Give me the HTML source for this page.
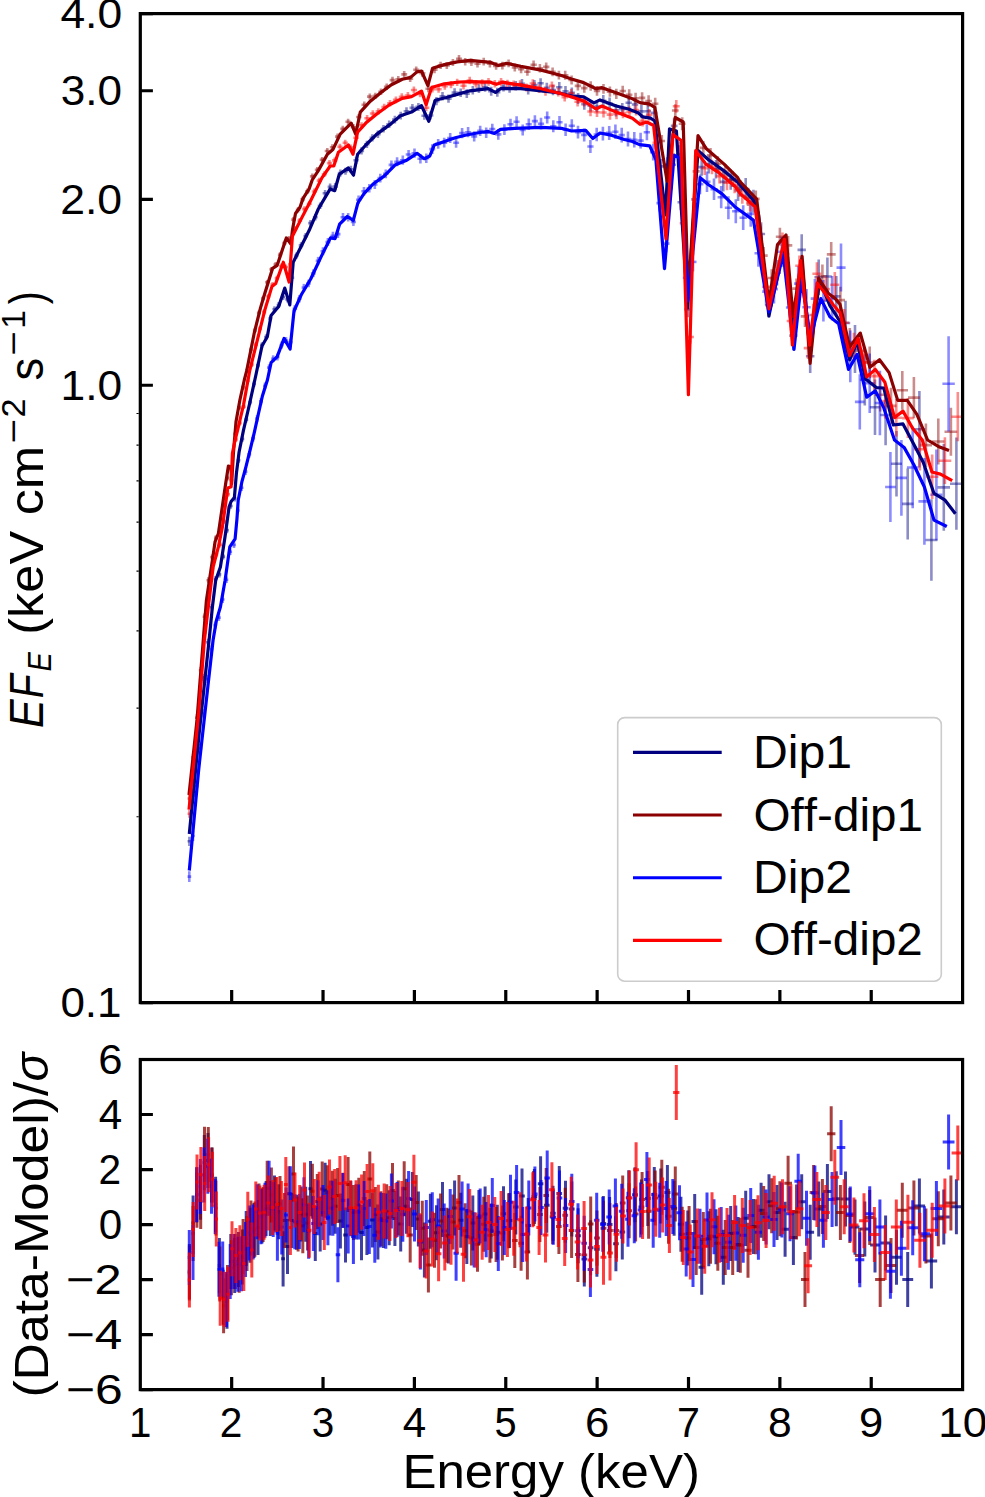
<!DOCTYPE html><html><head><meta charset="utf-8"><style>html,body{margin:0;padding:0;background:#fff;width:985px;height:1497px;overflow:hidden}</style></head><body><svg width="985" height="1497" viewBox="0 0 985 1497" style="position:absolute;left:0;top:0;font-family:'Liberation Sans',sans-serif;font-kerning:none">
<rect width="985" height="1497" fill="#fff"/>
<defs><clipPath id="ct"><rect x="140.3" y="13.6" width="822.3" height="989.0"/></clipPath><clipPath id="cb"><rect x="140.3" y="1059.5" width="822.3" height="330.0999999999999"/></clipPath></defs>
<g clip-path="url(#ct)" stroke-linecap="butt">
<g stroke="#000080" stroke-opacity="0.45" stroke-width="2.6" fill="none">
<path d="M189.4 836.7V845.9"/><path d="M187.5 841.3H191.2"/>
<path d="M193.1 791.1V799.7"/><path d="M191.2 795.4H194.9"/>
<path d="M196.8 749.2V757.3"/><path d="M194.9 753.2H198.6"/>
<path d="M200.5 712.4V720.0"/><path d="M198.6 716.2H202.4"/>
<path d="M204.3 673.7V680.9"/><path d="M202.4 677.3H206.1"/>
<path d="M208.0 638.8V645.6"/><path d="M206.1 642.2H209.9"/>
<path d="M211.8 604.1V610.5"/><path d="M209.9 607.3H213.7"/>
<path d="M215.6 576.0V582.2"/><path d="M213.7 579.1H217.5"/>
<path d="M219.4 571.4V577.4"/><path d="M217.5 574.4H221.3"/>
<path d="M223.2 553.7V559.5"/><path d="M221.3 556.6H225.1"/>
<path d="M227.0 527.5V533.2"/><path d="M225.1 530.3H228.9"/>
<path d="M230.8 503.2V508.8"/><path d="M228.9 506.0H232.7"/>
<path d="M234.7 495.8V501.4"/><path d="M232.7 498.6H236.6"/>
<path d="M238.5 457.5V463.0"/><path d="M236.6 460.3H240.4"/>
<path d="M242.4 436.2V441.8"/><path d="M240.4 439.0H244.3"/>
<path d="M246.2 416.8V422.5"/><path d="M244.3 419.6H248.2"/>
<path d="M250.1 399.5V405.1"/><path d="M248.2 402.3H252.1"/>
<path d="M254.0 381.2V386.9"/><path d="M252.1 384.0H256.0"/>
<path d="M258.0 362.4V368.1"/><path d="M256.0 365.3H260.0"/>
<path d="M262.0 342.2V347.9"/><path d="M260.0 345.0H264.1"/>
<path d="M266.1 334.3V340.1"/><path d="M264.1 337.2H268.2"/>
<path d="M270.3 315.7V321.4"/><path d="M268.2 318.5H272.3"/>
<path d="M274.5 306.3V312.1"/><path d="M272.3 309.2H276.6"/>
<path d="M278.7 302.0V307.9"/><path d="M276.6 305.0H280.9"/>
<path d="M283.1 294.0V300.0"/><path d="M280.9 297.0H285.2"/>
<path d="M287.5 296.4V302.4"/><path d="M285.2 299.4H289.7"/>
<path d="M291.9 274.7V280.8"/><path d="M289.7 277.7H294.2"/>
<path d="M296.5 252.4V258.6"/><path d="M294.2 255.5H298.7"/>
<path d="M301.1 242.2V248.5"/><path d="M298.7 245.4H303.4"/>
<path d="M305.7 232.9V239.2"/><path d="M303.4 236.1H308.1"/>
<path d="M310.5 219.9V226.3"/><path d="M308.1 223.1H312.9"/>
<path d="M315.3 213.9V220.4"/><path d="M312.9 217.2H317.7"/>
<path d="M320.2 202.4V209.1"/><path d="M317.7 205.8H322.6"/>
<path d="M325.1 189.9V196.7"/><path d="M322.6 193.3H327.6"/>
<path d="M330.1 183.5V190.4"/><path d="M327.6 186.9H332.7"/>
<path d="M335.2 183.1V190.0"/><path d="M332.7 186.6H337.8"/>
<path d="M340.4 169.6V176.6"/><path d="M337.8 173.1H342.9"/>
<path d="M345.5 167.7V174.8"/><path d="M342.9 171.2H348.2"/>
<path d="M350.8 165.7V172.8"/><path d="M348.2 169.3H353.4"/>
<path d="M356.1 156.7V163.9"/><path d="M353.4 160.3H358.8"/>
<path d="M361.5 147.3V154.6"/><path d="M358.8 150.9H364.1"/>
<path d="M366.9 140.7V148.0"/><path d="M364.1 144.3H369.6"/>
<path d="M372.4 134.2V141.6"/><path d="M369.6 137.9H375.1"/>
<path d="M377.9 130.6V138.1"/><path d="M375.1 134.3H380.7"/>
<path d="M383.5 124.9V132.5"/><path d="M380.7 128.7H386.3"/>
<path d="M389.2 120.4V128.0"/><path d="M386.3 124.2H392.0"/>
<path d="M394.9 115.8V123.5"/><path d="M392.0 119.6H397.8"/>
<path d="M400.7 111.8V119.6"/><path d="M397.8 115.7H403.6"/>
<path d="M406.5 107.2V115.1"/><path d="M403.6 111.2H409.5"/>
<path d="M412.4 103.9V111.9"/><path d="M409.5 107.9H415.4"/>
<path d="M418.4 102.9V110.9"/><path d="M415.4 106.9H421.4"/>
<path d="M424.4 111.6V119.7"/><path d="M421.4 115.7H427.4"/>
<path d="M430.4 111.4V119.6"/><path d="M427.4 115.5H433.4"/>
<path d="M436.5 97.1V105.3"/><path d="M433.4 101.2H439.5"/>
<path d="M442.5 92.0V100.4"/><path d="M439.5 96.2H445.5"/>
<path d="M448.5 94.4V102.8"/><path d="M445.5 98.6H451.6"/>
<path d="M454.6 88.3V96.8"/><path d="M451.6 92.6H457.6"/>
<path d="M460.7 88.4V97.0"/><path d="M457.6 92.7H463.7"/>
<path d="M466.8 89.3V97.9"/><path d="M463.7 93.6H469.8"/>
<path d="M472.8 85.9V94.6"/><path d="M469.8 90.2H475.9"/>
<path d="M478.9 84.2V93.1"/><path d="M475.9 88.7H482.0"/>
<path d="M485.1 82.9V91.8"/><path d="M482.0 87.4H488.1"/>
<path d="M491.2 86.7V95.8"/><path d="M488.1 91.2H494.3"/>
<path d="M497.3 87.7V96.8"/><path d="M494.3 92.3H500.4"/>
<path d="M503.5 82.3V91.5"/><path d="M500.4 86.9H506.5"/>
<path d="M509.6 83.3V92.7"/><path d="M506.5 88.0H512.7"/>
<path d="M515.8 81.0V90.4"/><path d="M512.7 85.7H518.9"/>
<path d="M522.0 79.0V88.7"/><path d="M518.9 83.9H525.1"/>
<path d="M528.2 84.7V94.5"/><path d="M525.1 89.6H531.3"/>
<path d="M534.4 80.1V90.0"/><path d="M531.3 85.0H537.5"/>
<path d="M540.6 78.2V88.3"/><path d="M537.5 83.3H543.7"/>
<path d="M546.8 82.8V93.0"/><path d="M543.7 87.9H549.9"/>
<path d="M553.0 84.8V95.2"/><path d="M549.9 90.0H556.1"/>
<path d="M559.3 82.0V92.5"/><path d="M556.1 87.3H562.4"/>
<path d="M565.5 86.1V96.7"/><path d="M562.4 91.4H568.6"/>
<path d="M571.8 87.4V98.2"/><path d="M568.6 92.8H574.9"/>
<path d="M578.1 93.1V104.1"/><path d="M574.9 98.6H581.2"/>
<path d="M584.3 98.7V109.8"/><path d="M581.2 104.3H587.5"/>
<path d="M590.6 100.1V111.4"/><path d="M587.5 105.7H593.8"/>
<path d="M596.9 100.8V112.2"/><path d="M593.8 106.5H600.1"/>
<path d="M603.3 95.1V106.8"/><path d="M600.1 100.9H606.4"/>
<path d="M609.6 97.5V109.5"/><path d="M606.4 103.5H612.8"/>
<path d="M615.9 104.0V116.4"/><path d="M612.8 110.2H619.1"/>
<path d="M622.3 102.9V115.5"/><path d="M619.1 109.2H625.5"/>
<path d="M628.7 96.3V109.3"/><path d="M625.5 102.8H631.8"/>
<path d="M635.0 97.9V111.1"/><path d="M631.8 104.5H638.2"/>
<path d="M641.4 104.7V118.2"/><path d="M638.2 111.4H644.6"/>
<path d="M647.8 104.2V118.1"/><path d="M644.6 111.2H651.0"/>
<path d="M654.3 105.8V120.0"/><path d="M651.0 112.9H657.5"/>
<path d="M660.8 159.1V173.6"/><path d="M657.5 166.4H664.1"/>
<path d="M667.4 157.2V172.0"/><path d="M664.1 164.6H670.8"/>
<path d="M674.1 118.3V133.5"/><path d="M670.8 125.9H677.5"/>
<path d="M680.9 194.5V210.0"/><path d="M677.5 202.3H684.3"/>
<path d="M687.8 301.4V317.2"/><path d="M684.3 309.3H691.2"/>
<path d="M694.7 191.1V207.6"/><path d="M691.2 199.4H698.2"/>
<path d="M701.7 158.6V175.7"/><path d="M698.2 167.1H705.3"/>
<path d="M708.8 155.6V173.5"/><path d="M705.3 164.6H712.4"/>
<path d="M716.0 159.9V178.6"/><path d="M712.4 169.3H719.7"/>
<path d="M723.3 172.2V191.6"/><path d="M719.7 181.9H727.0"/>
<path d="M730.7 169.6V189.8"/><path d="M727.0 179.7H734.4"/>
<path d="M738.1 179.9V200.9"/><path d="M734.4 190.4H741.9"/>
<path d="M745.7 178.1V199.9"/><path d="M741.9 189.0H749.5"/>
<path d="M753.4 189.7V212.4"/><path d="M749.5 201.1H757.2"/>
<path d="M761.1 222.2V245.8"/><path d="M757.2 234.0H765.1"/>
<path d="M769.0 292.9V317.5"/><path d="M765.1 305.2H773.0"/>
<path d="M777.0 260.0V285.6"/><path d="M773.0 272.8H781.0"/>
<path d="M785.1 244.8V271.9"/><path d="M781.0 258.4H789.2"/>
<path d="M793.4 321.0V350.2"/><path d="M789.2 335.6H797.5"/>
<path d="M801.7 234.3V265.5"/><path d="M797.5 249.9H805.9"/>
<path d="M810.2 339.5V372.9"/><path d="M805.9 356.2H814.4"/>
<path d="M818.7 259.4V295.0"/><path d="M814.4 277.2H823.1"/>
<path d="M827.4 257.5V295.6"/><path d="M823.1 276.5H831.8"/>
<path d="M836.3 275.9V317.0"/><path d="M831.8 296.4H840.8"/>
<path d="M845.5 300.8V345.1"/><path d="M840.8 323.0H850.2"/>
<path d="M855.0 325.1V372.9"/><path d="M850.2 349.0H859.8"/>
<path d="M864.8 354.2V405.5"/><path d="M859.8 379.8H869.8"/>
<path d="M875.0 379.5V435.0"/><path d="M869.8 407.2H880.2"/>
<path d="M885.6 384.8V445.2"/><path d="M880.2 415.0H890.9"/>
<path d="M896.5 430.9V496.4"/><path d="M890.9 463.7H902.0"/>
<path d="M907.7 468.4V539.4"/><path d="M902.0 503.9H913.5"/>
<path d="M919.4 390.9V467.5"/><path d="M913.5 429.2H925.4"/>
<path d="M931.4 499.2V580.8"/><path d="M925.4 540.0H937.5"/>
<path d="M943.8 444.0V530.8"/><path d="M937.5 487.4H950.0"/>
<path d="M956.4 437.6V529.8"/><path d="M950.0 483.7H962.7"/>
</g>
<g stroke="#8b0000" stroke-opacity="0.45" stroke-width="2.6" fill="none">
<path d="M189.4 794.5V802.4"/><path d="M187.5 798.5H191.3"/>
<path d="M193.1 753.7V761.2"/><path d="M191.3 757.4H195.0"/>
<path d="M196.9 714.3V721.3"/><path d="M195.0 717.8H198.8"/>
<path d="M200.7 667.0V673.6"/><path d="M198.8 670.3H202.6"/>
<path d="M204.5 613.6V619.9"/><path d="M202.6 616.8H206.4"/>
<path d="M208.3 577.3V583.2"/><path d="M206.4 580.3H210.2"/>
<path d="M212.1 554.5V560.0"/><path d="M210.2 557.3H214.0"/>
<path d="M215.9 535.3V540.6"/><path d="M214.0 537.9H217.9"/>
<path d="M219.8 526.1V531.3"/><path d="M217.9 528.7H221.7"/>
<path d="M223.6 502.5V507.6"/><path d="M221.7 505.1H225.6"/>
<path d="M227.5 475.5V480.4"/><path d="M225.6 478.0H229.4"/>
<path d="M231.4 477.9V482.7"/><path d="M229.4 480.3H233.3"/>
<path d="M235.3 431.4V436.2"/><path d="M233.3 433.8H237.2"/>
<path d="M239.2 405.2V410.0"/><path d="M237.2 407.6H241.1"/>
<path d="M243.1 385.0V389.8"/><path d="M241.1 387.4H245.1"/>
<path d="M247.0 368.4V373.3"/><path d="M245.1 370.8H249.0"/>
<path d="M251.0 347.3V352.2"/><path d="M249.0 349.8H252.9"/>
<path d="M254.9 328.1V333.0"/><path d="M252.9 330.5H256.9"/>
<path d="M259.0 310.4V315.3"/><path d="M256.9 312.8H261.0"/>
<path d="M263.1 295.9V300.8"/><path d="M261.0 298.4H265.1"/>
<path d="M267.2 279.9V284.8"/><path d="M265.1 282.3H269.3"/>
<path d="M271.4 266.9V271.9"/><path d="M269.3 269.4H273.5"/>
<path d="M275.7 262.0V267.0"/><path d="M273.5 264.5H277.9"/>
<path d="M280.0 252.3V257.3"/><path d="M277.9 254.8H282.2"/>
<path d="M284.5 240.5V245.6"/><path d="M282.2 243.1H286.7"/>
<path d="M288.9 235.9V241.1"/><path d="M286.7 238.5H291.2"/>
<path d="M293.5 217.0V222.3"/><path d="M291.2 219.6H295.8"/>
<path d="M298.1 207.1V212.5"/><path d="M295.8 209.8H300.4"/>
<path d="M302.8 196.6V202.1"/><path d="M300.4 199.4H305.1"/>
<path d="M307.5 188.4V194.0"/><path d="M305.1 191.2H309.9"/>
<path d="M312.4 173.6V179.2"/><path d="M309.9 176.4H314.8"/>
<path d="M317.3 167.0V172.7"/><path d="M314.8 169.8H319.7"/>
<path d="M322.2 156.9V162.7"/><path d="M319.7 159.8H324.7"/>
<path d="M327.3 148.1V153.9"/><path d="M324.7 151.0H329.8"/>
<path d="M332.4 144.2V150.1"/><path d="M329.8 147.2H335.0"/>
<path d="M337.6 133.6V139.5"/><path d="M335.0 136.6H340.2"/>
<path d="M342.8 125.8V131.9"/><path d="M340.2 128.9H345.4"/>
<path d="M348.1 118.8V124.8"/><path d="M345.4 121.8H350.7"/>
<path d="M353.4 124.1V130.3"/><path d="M350.7 127.2H356.1"/>
<path d="M358.8 113.9V120.1"/><path d="M356.1 117.0H361.5"/>
<path d="M364.3 101.6V107.9"/><path d="M361.5 104.8H367.0"/>
<path d="M369.8 93.4V99.7"/><path d="M367.0 96.6H372.6"/>
<path d="M375.4 92.7V99.1"/><path d="M372.6 95.9H378.2"/>
<path d="M381.0 88.5V95.0"/><path d="M378.2 91.7H383.9"/>
<path d="M386.7 83.4V89.9"/><path d="M383.9 86.7H389.6"/>
<path d="M392.5 76.8V83.4"/><path d="M389.6 80.1H395.4"/>
<path d="M398.3 75.9V82.5"/><path d="M395.4 79.2H401.3"/>
<path d="M404.2 71.1V77.8"/><path d="M401.3 74.4H407.2"/>
<path d="M410.2 75.4V82.1"/><path d="M407.2 78.8H413.2"/>
<path d="M416.2 66.4V73.2"/><path d="M413.2 69.8H419.3"/>
<path d="M422.3 69.9V76.8"/><path d="M419.3 73.3H425.4"/>
<path d="M428.4 85.3V92.2"/><path d="M425.4 88.8H431.5"/>
<path d="M434.5 66.2V73.2"/><path d="M431.5 69.7H437.6"/>
<path d="M440.6 61.8V68.9"/><path d="M437.6 65.3H443.7"/>
<path d="M446.8 61.9V69.1"/><path d="M443.7 65.5H449.8"/>
<path d="M452.9 58.9V66.1"/><path d="M449.8 62.5H456.0"/>
<path d="M459.0 55.1V62.4"/><path d="M456.0 58.8H462.1"/>
<path d="M465.2 58.1V65.4"/><path d="M462.1 61.7H468.3"/>
<path d="M471.4 58.5V65.9"/><path d="M468.3 62.2H474.4"/>
<path d="M477.5 60.0V67.5"/><path d="M474.4 63.7H480.6"/>
<path d="M483.7 57.8V65.4"/><path d="M480.6 61.6H486.8"/>
<path d="M489.9 59.9V67.6"/><path d="M486.8 63.8H493.0"/>
<path d="M496.1 62.1V69.8"/><path d="M493.0 65.9H499.3"/>
<path d="M502.4 61.7V69.5"/><path d="M499.3 65.6H505.5"/>
<path d="M508.6 59.4V67.2"/><path d="M505.5 63.3H511.7"/>
<path d="M514.8 63.5V71.5"/><path d="M511.7 67.5H518.0"/>
<path d="M521.1 65.2V73.3"/><path d="M518.0 69.2H524.2"/>
<path d="M527.4 67.6V75.8"/><path d="M524.2 71.7H530.5"/>
<path d="M533.6 60.6V69.0"/><path d="M530.5 64.8H536.8"/>
<path d="M539.9 64.1V72.6"/><path d="M536.8 68.4H543.1"/>
<path d="M546.2 62.6V71.2"/><path d="M543.1 66.9H549.4"/>
<path d="M552.6 67.6V76.3"/><path d="M549.4 71.9H555.7"/>
<path d="M558.9 70.7V79.6"/><path d="M555.7 75.2H562.0"/>
<path d="M565.2 70.8V79.8"/><path d="M562.0 75.3H568.4"/>
<path d="M571.6 75.5V84.6"/><path d="M568.4 80.0H574.7"/>
<path d="M577.9 81.3V90.5"/><path d="M574.7 85.9H581.1"/>
<path d="M584.3 83.4V92.8"/><path d="M581.1 88.1H587.5"/>
<path d="M590.7 81.3V90.7"/><path d="M587.5 86.0H593.8"/>
<path d="M597.0 86.1V95.7"/><path d="M593.8 90.9H600.2"/>
<path d="M603.5 84.0V93.8"/><path d="M600.2 88.9H606.7"/>
<path d="M609.9 86.6V96.7"/><path d="M606.7 91.6H613.1"/>
<path d="M616.3 88.8V99.1"/><path d="M613.1 93.9H619.5"/>
<path d="M622.7 85.7V96.3"/><path d="M619.5 91.0H625.9"/>
<path d="M629.2 89.3V100.2"/><path d="M625.9 94.7H632.4"/>
<path d="M635.6 92.8V103.9"/><path d="M632.4 98.3H638.9"/>
<path d="M642.1 92.2V103.6"/><path d="M638.9 97.9H645.3"/>
<path d="M648.6 95.2V106.8"/><path d="M645.3 101.0H651.9"/>
<path d="M655.2 97.8V109.6"/><path d="M651.9 103.7H658.4"/>
<path d="M661.8 134.9V147.0"/><path d="M658.4 141.0H665.1"/>
<path d="M668.5 162.0V174.5"/><path d="M665.1 168.3H671.9"/>
<path d="M675.3 104.2V116.9"/><path d="M671.9 110.5H678.7"/>
<path d="M682.2 117.2V130.2"/><path d="M678.7 123.7H685.6"/>
<path d="M689.1 278.0V291.2"/><path d="M685.6 284.6H692.6"/>
<path d="M696.2 164.6V178.2"/><path d="M692.6 171.4H699.7"/>
<path d="M703.3 140.9V154.9"/><path d="M699.7 147.9H706.9"/>
<path d="M710.5 148.1V162.5"/><path d="M706.9 155.3H714.2"/>
<path d="M717.8 156.3V171.0"/><path d="M714.2 163.7H721.5"/>
<path d="M725.2 164.0V179.1"/><path d="M721.5 171.5H729.0"/>
<path d="M732.7 171.5V187.0"/><path d="M729.0 179.2H736.5"/>
<path d="M740.3 180.1V196.0"/><path d="M736.5 188.0H744.1"/>
<path d="M748.0 189.5V205.9"/><path d="M744.1 197.7H751.9"/>
<path d="M755.8 190.6V207.3"/><path d="M751.9 198.9H759.7"/>
<path d="M763.7 247.0V264.2"/><path d="M759.7 255.6H767.7"/>
<path d="M771.7 269.2V286.8"/><path d="M767.7 278.0H775.8"/>
<path d="M779.9 227.8V245.8"/><path d="M775.8 236.8H784.0"/>
<path d="M788.1 235.9V254.9"/><path d="M784.0 245.4H792.3"/>
<path d="M796.5 278.6V298.7"/><path d="M792.3 288.6H800.7"/>
<path d="M805.0 305.8V327.1"/><path d="M800.7 316.4H809.3"/>
<path d="M813.6 303.8V326.2"/><path d="M809.3 315.0H818.0"/>
<path d="M822.4 264.4V288.0"/><path d="M818.0 276.2H826.8"/>
<path d="M831.2 241.9V266.9"/><path d="M826.8 254.4H835.7"/>
<path d="M840.4 286.8V313.4"/><path d="M835.7 300.1H845.0"/>
<path d="M849.8 327.9V356.2"/><path d="M845.0 342.1H854.6"/>
<path d="M859.6 335.8V365.8"/><path d="M854.6 350.8H864.5"/>
<path d="M869.7 346.6V378.3"/><path d="M864.5 362.5H874.8"/>
<path d="M880.2 377.7V411.6"/><path d="M874.8 394.7H885.5"/>
<path d="M891.0 387.7V424.1"/><path d="M885.5 405.9H896.5"/>
<path d="M902.3 370.9V409.7"/><path d="M896.5 390.3H908.0"/>
<path d="M913.9 376.9V418.3"/><path d="M908.0 397.6H919.8"/>
<path d="M925.9 423.4V466.9"/><path d="M919.8 445.1H932.0"/>
<path d="M938.3 418.6V464.4"/><path d="M932.0 441.5H944.5"/>
<path d="M950.9 407.8V455.8"/><path d="M944.5 431.8H957.3"/>
</g>
<g stroke="#0000ff" stroke-opacity="0.45" stroke-width="2.6" fill="none">
<path d="M189.3 871.3V882.0"/><path d="M187.5 876.6H191.2"/>
<path d="M193.0 830.9V841.0"/><path d="M191.2 836.0H194.8"/>
<path d="M196.7 781.5V791.0"/><path d="M194.8 786.2H198.5"/>
<path d="M200.3 743.8V752.8"/><path d="M198.5 748.3H202.2"/>
<path d="M204.0 709.2V717.7"/><path d="M202.2 713.5H205.9"/>
<path d="M207.8 675.1V683.1"/><path d="M205.9 679.1H209.6"/>
<path d="M211.5 645.4V653.0"/><path d="M209.6 649.2H213.3"/>
<path d="M215.2 621.5V628.7"/><path d="M213.3 625.1H217.1"/>
<path d="M218.9 614.1V621.1"/><path d="M217.1 617.6H220.8"/>
<path d="M222.7 596.1V603.0"/><path d="M220.8 599.5H224.6"/>
<path d="M226.5 576.4V583.1"/><path d="M224.6 579.8H228.3"/>
<path d="M230.2 548.5V555.1"/><path d="M228.3 551.8H232.1"/>
<path d="M234.0 541.6V548.1"/><path d="M232.1 544.9H235.9"/>
<path d="M237.8 507.2V513.8"/><path d="M235.9 510.5H239.7"/>
<path d="M241.6 484.4V491.0"/><path d="M239.7 487.7H243.5"/>
<path d="M245.5 468.3V474.9"/><path d="M243.5 471.6H247.4"/>
<path d="M249.3 451.0V457.6"/><path d="M247.4 454.3H251.2"/>
<path d="M253.2 434.9V441.5"/><path d="M251.2 438.2H255.1"/>
<path d="M257.1 415.1V421.8"/><path d="M255.1 418.5H259.0"/>
<path d="M261.0 397.9V404.6"/><path d="M259.0 401.3H263.0"/>
<path d="M265.0 382.5V389.2"/><path d="M263.0 385.9H267.0"/>
<path d="M269.1 364.3V371.0"/><path d="M267.0 367.6H271.1"/>
<path d="M273.2 355.3V362.1"/><path d="M271.1 358.7H275.3"/>
<path d="M277.4 353.7V360.5"/><path d="M275.3 357.1H279.5"/>
<path d="M281.7 341.6V348.6"/><path d="M279.5 345.1H283.8"/>
<path d="M286.0 337.1V344.1"/><path d="M283.8 340.6H288.2"/>
<path d="M290.4 338.7V345.8"/><path d="M288.2 342.2H292.6"/>
<path d="M294.8 305.2V312.4"/><path d="M292.6 308.8H297.1"/>
<path d="M299.4 295.1V302.4"/><path d="M297.1 298.7H301.6"/>
<path d="M303.9 283.9V291.3"/><path d="M301.6 287.6H306.2"/>
<path d="M308.6 279.7V287.2"/><path d="M306.2 283.4H310.9"/>
<path d="M313.3 269.4V277.1"/><path d="M310.9 273.3H315.7"/>
<path d="M318.1 256.9V264.7"/><path d="M315.7 260.8H320.5"/>
<path d="M323.0 247.3V255.2"/><path d="M320.5 251.2H325.4"/>
<path d="M327.9 238.1V246.1"/><path d="M325.4 242.1H330.4"/>
<path d="M332.9 231.8V239.9"/><path d="M330.4 235.9H335.4"/>
<path d="M337.9 230.0V238.1"/><path d="M335.4 234.1H340.5"/>
<path d="M343.0 213.1V221.3"/><path d="M340.5 217.2H345.6"/>
<path d="M348.2 213.1V221.4"/><path d="M345.6 217.3H350.8"/>
<path d="M353.4 217.8V226.1"/><path d="M350.8 221.9H356.0"/>
<path d="M358.6 195.6V204.0"/><path d="M356.0 199.8H361.3"/>
<path d="M364.0 187.0V195.6"/><path d="M361.3 191.3H366.6"/>
<path d="M369.3 184.0V192.6"/><path d="M366.6 188.3H372.0"/>
<path d="M374.8 180.1V188.9"/><path d="M372.0 184.5H377.5"/>
<path d="M380.3 173.7V182.5"/><path d="M377.5 178.1H383.0"/>
<path d="M385.8 169.4V178.3"/><path d="M383.0 173.8H388.6"/>
<path d="M391.4 160.4V169.4"/><path d="M388.6 164.9H394.2"/>
<path d="M397.1 157.3V166.3"/><path d="M394.2 161.8H400.0"/>
<path d="M402.8 155.6V164.8"/><path d="M400.0 160.2H405.7"/>
<path d="M408.6 149.9V159.1"/><path d="M405.7 154.5H411.5"/>
<path d="M414.5 148.5V157.8"/><path d="M411.5 153.2H417.4"/>
<path d="M420.4 154.1V163.5"/><path d="M417.4 158.8H423.4"/>
<path d="M426.3 153.4V163.0"/><path d="M423.4 158.2H429.3"/>
<path d="M432.3 144.3V153.9"/><path d="M429.3 149.1H435.2"/>
<path d="M438.2 139.0V148.7"/><path d="M435.2 143.9H441.2"/>
<path d="M444.2 137.7V147.5"/><path d="M441.2 142.6H447.2"/>
<path d="M450.2 133.0V142.9"/><path d="M447.2 138.0H453.2"/>
<path d="M456.1 137.7V147.7"/><path d="M453.2 142.7H459.1"/>
<path d="M462.1 128.1V138.2"/><path d="M459.1 133.1H465.1"/>
<path d="M468.1 127.1V137.3"/><path d="M465.1 132.2H471.2"/>
<path d="M474.2 131.3V141.6"/><path d="M471.2 136.4H477.2"/>
<path d="M480.2 125.7V136.1"/><path d="M477.2 130.9H483.2"/>
<path d="M486.2 127.4V137.9"/><path d="M483.2 132.6H489.2"/>
<path d="M492.3 123.8V134.3"/><path d="M489.2 129.0H495.3"/>
<path d="M498.3 129.1V139.8"/><path d="M495.3 134.4H501.4"/>
<path d="M504.4 124.2V135.0"/><path d="M501.4 129.6H507.4"/>
<path d="M510.5 118.7V129.6"/><path d="M507.4 124.2H513.5"/>
<path d="M516.6 116.2V127.3"/><path d="M513.5 121.8H519.6"/>
<path d="M522.7 124.4V135.6"/><path d="M519.6 130.0H525.7"/>
<path d="M528.8 118.6V130.0"/><path d="M525.7 124.3H531.8"/>
<path d="M534.9 115.3V126.9"/><path d="M531.8 121.1H537.9"/>
<path d="M541.0 117.8V129.6"/><path d="M537.9 123.7H544.1"/>
<path d="M547.2 111.5V123.5"/><path d="M544.1 117.5H550.2"/>
<path d="M553.3 120.2V132.3"/><path d="M550.2 126.3H556.4"/>
<path d="M559.5 116.1V128.4"/><path d="M556.4 122.2H562.6"/>
<path d="M565.6 123.4V135.9"/><path d="M562.6 129.6H568.7"/>
<path d="M571.8 119.3V132.0"/><path d="M568.7 125.7H574.9"/>
<path d="M578.0 125.7V138.6"/><path d="M574.9 132.2H581.1"/>
<path d="M584.2 128.4V141.4"/><path d="M581.1 134.9H587.3"/>
<path d="M590.4 140.0V153.1"/><path d="M587.3 146.5H593.6"/>
<path d="M596.7 127.8V141.2"/><path d="M593.6 134.5H599.8"/>
<path d="M602.9 126.7V140.4"/><path d="M599.8 133.5H606.0"/>
<path d="M609.2 125.9V139.9"/><path d="M606.0 132.9H612.3"/>
<path d="M615.4 124.5V138.9"/><path d="M612.3 131.7H618.5"/>
<path d="M621.7 127.7V142.4"/><path d="M618.5 135.1H624.8"/>
<path d="M628.0 131.4V146.5"/><path d="M624.8 139.0H631.1"/>
<path d="M634.3 132.1V147.6"/><path d="M631.1 139.9H637.4"/>
<path d="M640.6 132.7V148.5"/><path d="M637.4 140.6H643.7"/>
<path d="M646.9 124.2V140.3"/><path d="M643.7 132.2H650.0"/>
<path d="M653.2 144.1V160.6"/><path d="M650.0 152.3H656.4"/>
<path d="M659.7 194.7V211.5"/><path d="M656.4 203.1H662.9"/>
<path d="M666.2 235.0V252.2"/><path d="M662.9 243.6H669.5"/>
<path d="M672.8 156.0V173.5"/><path d="M669.5 164.7H676.1"/>
<path d="M679.5 145.3V163.3"/><path d="M676.1 154.3H682.8"/>
<path d="M686.2 268.7V287.0"/><path d="M682.8 277.8H689.6"/>
<path d="M693.0 252.4V271.4"/><path d="M689.6 261.9H696.5"/>
<path d="M700.0 174.5V194.2"/><path d="M696.5 184.3H703.4"/>
<path d="M707.0 171.5V192.0"/><path d="M703.4 181.7H710.5"/>
<path d="M714.0 178.6V199.9"/><path d="M710.5 189.2H717.6"/>
<path d="M721.2 186.1V208.3"/><path d="M717.6 197.2H724.8"/>
<path d="M728.4 196.2V219.2"/><path d="M724.8 207.7H732.1"/>
<path d="M735.8 199.3V223.2"/><path d="M732.1 211.2H739.5"/>
<path d="M743.2 205.3V230.1"/><path d="M739.5 217.7H746.9"/>
<path d="M750.7 201.1V226.8"/><path d="M746.9 213.9H754.5"/>
<path d="M758.4 240.0V266.7"/><path d="M754.5 253.3H762.2"/>
<path d="M766.1 277.8V305.5"/><path d="M762.2 291.6H770.0"/>
<path d="M774.0 274.7V303.5"/><path d="M770.0 289.1H777.9"/>
<path d="M781.9 236.8V266.8"/><path d="M777.9 251.8H785.9"/>
<path d="M790.0 291.4V323.6"/><path d="M785.9 307.5H794.1"/>
<path d="M798.2 266.3V300.8"/><path d="M794.1 283.6H802.3"/>
<path d="M806.5 289.0V325.7"/><path d="M802.3 307.3H810.7"/>
<path d="M814.9 279.1V318.2"/><path d="M810.7 298.6H819.1"/>
<path d="M823.4 279.9V321.5"/><path d="M819.1 300.7H827.7"/>
<path d="M832.1 275.9V320.6"/><path d="M827.7 298.3H836.5"/>
<path d="M841.0 243.5V291.6"/><path d="M836.5 267.6H845.6"/>
<path d="M850.3 330.6V382.3"/><path d="M845.6 356.4H854.9"/>
<path d="M859.8 374.2V429.6"/><path d="M854.9 401.9H864.6"/>
<path d="M869.7 353.5V413.0"/><path d="M864.6 383.2H874.7"/>
<path d="M879.9 370.7V435.2"/><path d="M874.7 403.0H885.1"/>
<path d="M890.4 452.1V521.9"/><path d="M885.1 487.0H895.8"/>
<path d="M901.4 440.1V515.7"/><path d="M895.8 477.9H906.9"/>
<path d="M912.7 426.6V508.3"/><path d="M906.9 467.5H918.4"/>
<path d="M924.4 458.1V544.7"/><path d="M918.4 501.4H930.3"/>
<path d="M936.4 449.4V540.2"/><path d="M930.3 494.8H942.4"/>
<path d="M948.6 336.3V431.4"/><path d="M942.4 383.8H954.8"/>
</g>
<g stroke="#ff0000" stroke-opacity="0.45" stroke-width="2.6" fill="none">
<path d="M189.4 809.8V817.7"/><path d="M187.5 813.7H191.3"/>
<path d="M193.2 764.9V772.4"/><path d="M191.3 768.6H195.1"/>
<path d="M197.0 721.1V728.2"/><path d="M195.1 724.7H198.9"/>
<path d="M200.9 676.3V682.9"/><path d="M198.9 679.6H202.8"/>
<path d="M204.7 629.7V635.9"/><path d="M202.8 632.8H206.6"/>
<path d="M208.6 595.6V601.5"/><path d="M206.6 598.6H210.5"/>
<path d="M212.4 565.3V570.8"/><path d="M210.5 568.1H214.4"/>
<path d="M216.3 551.6V556.9"/><path d="M214.4 554.3H218.3"/>
<path d="M220.2 542.2V547.4"/><path d="M218.3 544.8H222.2"/>
<path d="M224.1 519.0V524.0"/><path d="M222.2 521.5H226.1"/>
<path d="M228.0 491.8V496.7"/><path d="M226.1 494.3H230.0"/>
<path d="M232.0 464.5V469.3"/><path d="M230.0 466.9H233.9"/>
<path d="M235.9 437.1V441.9"/><path d="M233.9 439.5H237.9"/>
<path d="M239.9 420.6V425.4"/><path d="M237.9 423.0H241.8"/>
<path d="M243.8 404.2V409.1"/><path d="M241.8 406.6H245.8"/>
<path d="M247.8 378.4V383.2"/><path d="M245.8 380.8H249.8"/>
<path d="M251.8 362.1V367.0"/><path d="M249.8 364.5H253.8"/>
<path d="M255.8 342.3V347.2"/><path d="M253.8 344.8H257.9"/>
<path d="M259.9 326.3V331.2"/><path d="M257.9 328.7H262.0"/>
<path d="M264.1 309.5V314.4"/><path d="M262.0 312.0H266.2"/>
<path d="M268.3 294.1V299.0"/><path d="M266.2 296.5H270.4"/>
<path d="M272.6 282.0V287.0"/><path d="M270.4 284.5H274.7"/>
<path d="M276.9 275.7V280.7"/><path d="M274.7 278.2H279.1"/>
<path d="M281.4 263.6V268.7"/><path d="M279.1 266.2H283.6"/>
<path d="M285.8 264.5V269.7"/><path d="M283.6 267.1H288.1"/>
<path d="M290.4 261.7V266.9"/><path d="M288.1 264.3H292.7"/>
<path d="M295.0 226.1V231.4"/><path d="M292.7 228.8H297.4"/>
<path d="M299.7 217.9V223.3"/><path d="M297.4 220.6H302.1"/>
<path d="M304.5 206.3V211.8"/><path d="M302.1 209.1H306.9"/>
<path d="M309.3 200.9V206.5"/><path d="M306.9 203.7H311.8"/>
<path d="M314.3 188.6V194.3"/><path d="M311.8 191.5H316.7"/>
<path d="M319.2 177.7V183.5"/><path d="M316.7 180.6H321.8"/>
<path d="M324.3 171.3V177.1"/><path d="M321.8 174.2H326.9"/>
<path d="M329.5 160.1V166.0"/><path d="M326.9 163.1H332.0"/>
<path d="M334.7 157.4V163.4"/><path d="M332.0 160.4H337.3"/>
<path d="M339.9 143.7V149.7"/><path d="M337.3 146.7H342.6"/>
<path d="M345.2 139.7V145.7"/><path d="M342.6 142.7H347.9"/>
<path d="M350.6 144.5V150.6"/><path d="M347.9 147.6H353.3"/>
<path d="M356.1 134.6V140.8"/><path d="M353.3 137.7H358.8"/>
<path d="M361.6 122.2V128.4"/><path d="M358.8 125.3H364.3"/>
<path d="M367.1 115.1V121.4"/><path d="M364.3 118.2H369.9"/>
<path d="M372.8 110.3V116.6"/><path d="M369.9 113.5H375.6"/>
<path d="M378.4 108.2V114.6"/><path d="M375.6 111.4H381.3"/>
<path d="M384.2 103.8V110.3"/><path d="M381.3 107.0H387.1"/>
<path d="M390.0 100.0V106.5"/><path d="M387.1 103.2H392.9"/>
<path d="M395.9 96.6V103.2"/><path d="M392.9 99.9H398.8"/>
<path d="M401.8 93.3V100.0"/><path d="M398.8 96.7H404.8"/>
<path d="M407.9 92.1V98.9"/><path d="M404.8 95.5H410.9"/>
<path d="M413.9 86.6V93.4"/><path d="M410.9 90.0H417.0"/>
<path d="M420.1 90.5V97.3"/><path d="M417.0 93.9H423.2"/>
<path d="M426.2 104.2V111.2"/><path d="M423.2 107.7H429.3"/>
<path d="M432.4 85.6V92.6"/><path d="M429.3 89.1H435.5"/>
<path d="M438.6 85.7V92.8"/><path d="M435.5 89.2H441.7"/>
<path d="M444.8 82.6V89.7"/><path d="M441.7 86.2H447.9"/>
<path d="M451.0 81.0V88.2"/><path d="M447.9 84.6H454.1"/>
<path d="M457.2 78.8V86.1"/><path d="M454.1 82.4H460.4"/>
<path d="M463.5 82.1V89.5"/><path d="M460.4 85.8H466.6"/>
<path d="M469.7 76.8V84.2"/><path d="M466.6 80.5H472.8"/>
<path d="M476.0 80.1V87.6"/><path d="M472.8 83.9H479.1"/>
<path d="M482.2 79.2V86.8"/><path d="M479.1 83.0H485.4"/>
<path d="M488.5 78.1V85.7"/><path d="M485.4 81.9H491.7"/>
<path d="M494.8 79.9V87.6"/><path d="M491.7 83.7H498.0"/>
<path d="M501.1 78.0V85.7"/><path d="M498.0 81.8H504.3"/>
<path d="M507.4 79.8V87.6"/><path d="M504.3 83.7H510.6"/>
<path d="M513.7 80.5V88.5"/><path d="M510.6 84.5H516.9"/>
<path d="M520.1 80.3V88.3"/><path d="M516.9 84.3H523.2"/>
<path d="M526.4 83.4V91.6"/><path d="M523.2 87.5H529.6"/>
<path d="M532.8 79.3V87.6"/><path d="M529.6 83.5H536.0"/>
<path d="M539.1 84.6V93.0"/><path d="M536.0 88.8H542.3"/>
<path d="M545.5 87.1V95.7"/><path d="M542.3 91.4H548.7"/>
<path d="M551.9 81.6V90.3"/><path d="M548.7 85.9H555.1"/>
<path d="M558.3 87.8V96.6"/><path d="M555.1 92.2H561.5"/>
<path d="M564.7 92.6V101.6"/><path d="M561.5 97.1H567.9"/>
<path d="M571.2 88.9V98.0"/><path d="M567.9 93.5H574.4"/>
<path d="M577.6 97.2V106.4"/><path d="M574.4 101.8H580.8"/>
<path d="M584.1 97.1V106.5"/><path d="M580.8 101.8H587.3"/>
<path d="M590.5 106.8V116.2"/><path d="M587.3 111.5H593.7"/>
<path d="M597.0 107.5V117.1"/><path d="M593.7 112.3H600.2"/>
<path d="M603.5 107.6V117.4"/><path d="M600.2 112.5H606.7"/>
<path d="M610.0 109.6V119.7"/><path d="M606.7 114.6H613.2"/>
<path d="M616.5 108.9V119.2"/><path d="M613.2 114.0H619.7"/>
<path d="M623.0 107.7V118.3"/><path d="M619.7 113.0H626.3"/>
<path d="M629.5 106.4V117.3"/><path d="M626.3 111.9H632.8"/>
<path d="M636.1 104.5V115.6"/><path d="M632.8 110.1H639.3"/>
<path d="M642.6 115.0V126.4"/><path d="M639.3 120.7H645.9"/>
<path d="M649.2 109.1V120.7"/><path d="M645.9 114.9H652.5"/>
<path d="M655.8 136.7V148.7"/><path d="M652.5 142.7H659.2"/>
<path d="M662.6 197.1V209.3"/><path d="M659.2 203.2H666.0"/>
<path d="M669.4 182.4V194.8"/><path d="M666.0 188.6H672.8"/>
<path d="M676.3 100.0V112.7"/><path d="M672.8 106.3H679.7"/>
<path d="M683.3 216.8V229.7"/><path d="M679.7 223.3H686.8"/>
<path d="M690.3 330.4V343.7"/><path d="M686.8 337.0H693.9"/>
<path d="M697.5 148.9V162.6"/><path d="M693.9 155.7H701.1"/>
<path d="M704.7 161.0V175.1"/><path d="M701.1 168.1H708.4"/>
<path d="M712.0 159.7V174.2"/><path d="M708.4 167.0H715.7"/>
<path d="M719.5 168.7V183.5"/><path d="M715.7 176.1H723.2"/>
<path d="M727.0 175.0V190.2"/><path d="M723.2 182.6H730.8"/>
<path d="M734.6 177.6V193.2"/><path d="M730.8 185.4H738.4"/>
<path d="M742.3 187.7V203.7"/><path d="M738.4 195.7H746.2"/>
<path d="M750.1 195.1V211.6"/><path d="M746.2 203.3H754.0"/>
<path d="M758.0 220.1V237.0"/><path d="M754.0 228.5H762.0"/>
<path d="M766.1 278.1V295.4"/><path d="M762.0 286.8H770.1"/>
<path d="M774.2 269.2V286.9"/><path d="M770.1 278.0H778.3"/>
<path d="M782.5 232.6V251.0"/><path d="M778.3 241.8H786.7"/>
<path d="M790.9 311.3V330.7"/><path d="M786.7 321.0H795.2"/>
<path d="M799.4 255.5V276.0"/><path d="M795.2 265.8H803.7"/>
<path d="M808.1 337.3V359.0"/><path d="M803.7 348.1H812.4"/>
<path d="M816.9 262.3V285.2"/><path d="M812.4 273.8H821.3"/>
<path d="M825.8 277.1V301.1"/><path d="M821.3 289.1H830.2"/>
<path d="M834.8 271.9V297.5"/><path d="M830.2 284.7H839.4"/>
<path d="M844.2 309.1V336.4"/><path d="M839.4 322.8H849.0"/>
<path d="M853.9 332.7V361.7"/><path d="M849.0 347.2H858.8"/>
<path d="M864.0 347.0V377.7"/><path d="M858.8 362.4H869.1"/>
<path d="M874.4 359.7V392.4"/><path d="M869.1 376.1H879.7"/>
<path d="M885.2 383.4V418.5"/><path d="M879.7 401.0H890.6"/>
<path d="M896.3 399.0V436.5"/><path d="M890.6 417.8H902.0"/>
<path d="M907.9 398.1V438.1"/><path d="M902.0 418.1H913.8"/>
<path d="M919.9 427.9V470.4"/><path d="M913.8 449.2H926.0"/>
<path d="M932.2 454.4V499.1"/><path d="M926.0 476.8H938.5"/>
<path d="M944.9 437.2V484.1"/><path d="M938.5 460.7H951.3"/>
<path d="M957.8 392.1V441.3"/><path d="M951.3 416.7H964.4"/>
</g>
</g>
<g clip-path="url(#ct)" fill="none" stroke-width="3.2" stroke-linejoin="round" stroke-linecap="butt">
<path d="M189.3 834.0 L199.0 735.0 L209.1 640.0 L212.4 607.0 L215.7 580.3 L220.4 567.0 L225.1 536.2 L229.1 506.8 L231.1 501.5 L234.4 497.5 L236.4 473.4 L239.1 452.0 L243.5 430.1 L249.3 405.0 L255.9 375.0 L262.0 346.0 L267.3 336.8 L271.1 315.5 L278.7 306.4 L284.8 288.1 L289.8 304.9 L293.2 262.2 L301.6 245.5 L309.2 230.3 L318.3 209.0 L330.2 188.9 L334.7 190.7 L339.3 174.3 L348.4 167.9 L353.5 175.2 L357.6 154.2 L365.8 145.0 L376.8 134.1 L389.5 124.9 L400.5 115.8 L411.5 112.1 L421.5 105.7 L428.8 121.3 L435.2 100.3 L446.2 97.5 L459.0 93.9 L470.0 90.8 L488.3 88.7 L495.4 92.4 L500.5 88.7 L520.8 88.7 L541.1 90.8 L555.3 92.4 L571.5 95.8 L583.7 96.9 L593.9 102.9 L600.0 99.9 L616.2 106.0 L628.4 109.0 L638.5 113.1 L642.6 116.8 L650.7 118.2 L654.8 121.0 L665.5 215.0 L669.5 128.9 L676.4 131.1 L687.6 308.0 L698.0 150.5 L708.2 159.5 L724.1 170.9 L737.7 182.3 L753.6 200.5 L758.4 213.4 L768.9 316.0 L784.0 246.0 L793.5 330.0 L801.8 262.0 L810.2 352.0 L819.7 279.9 L829.9 305.6 L840.0 321.4 L849.6 359.8 L857.1 341.7 L865.6 379.1 L876.3 387.6 L883.8 388.0 L893.4 425.0 L903.0 423.9 L912.6 442.1 L923.3 462.4 L934.0 493.4 L944.7 499.8 L955.4 513.7" stroke="#000080"/>
<path d="M189.0 795.0 L197.0 720.0 L206.4 600.4 L212.4 560.3 L215.1 541.6 L218.4 533.5 L225.8 482.8 L228.4 466.1 L231.1 466.7 L231.6 484.0 L233.5 452.0 L236.0 421.8 L239.9 400.0 L244.3 380.0 L246.8 370.3 L254.4 332.3 L260.5 307.9 L265.0 292.7 L272.6 268.3 L277.2 265.3 L286.3 237.9 L290.9 244.0 L292.4 230.3 L295.5 213.5 L300.0 207.2 L303.1 198.3 L309.1 188.9 L312.2 180.0 L318.3 170.6 L327.4 154.2 L332.9 149.6 L340.2 134.1 L351.2 123.1 L355.7 134.1 L360.3 112.1 L369.4 102.1 L380.4 92.9 L391.4 84.7 L402.3 79.2 L410.6 77.4 L417.0 71.9 L421.5 71.0 L427.9 85.6 L432.5 68.3 L444.4 64.6 L457.2 61.9 L470.0 60.3 L490.3 62.3 L498.4 65.4 L506.5 63.4 L520.8 66.4 L541.1 70.1 L561.4 75.5 L571.5 79.0 L583.7 82.6 L595.9 88.7 L602.0 87.7 L616.2 92.8 L630.4 97.9 L640.6 102.9 L649.1 103.9 L654.8 107.3 L667.1 181.1 L675.2 117.5 L683.2 122.0 L688.2 298.0 L698.0 135.7 L705.9 148.2 L724.1 164.1 L737.7 177.7 L740.0 181.7 L756.7 199.2 L768.9 303.4 L777.5 244.6 L786.0 235.0 L793.0 316.3 L802.1 256.4 L810.1 363.3 L818.6 278.3 L828.8 293.8 L835.2 298.6 L840.0 304.3 L849.6 347.0 L860.3 333.1 L869.9 367.3 L879.5 359.8 L889.1 372.6 L897.7 400.4 L907.3 400.4 L916.9 414.3 L927.6 440.0 L938.3 446.4 L949.0 450.6" stroke="#8b0000"/>
<path d="M189.3 870.5 L198.7 769.5 L208.0 685.4 L213.1 640.0 L216.4 620.4 L220.4 607.0 L225.1 580.3 L229.8 546.9 L235.1 538.9 L237.0 518.3 L238.2 500.2 L241.8 482.2 L246.0 466.6 L250.2 449.7 L254.5 431.7 L258.7 412.5 L262.4 396.0 L267.4 380.0 L271.1 362.7 L277.2 356.6 L284.1 338.4 L290.1 349.0 L294.0 311.0 L301.6 294.2 L310.7 279.0 L321.4 256.1 L330.5 237.9 L335.1 238.6 L339.6 224.2 L347.3 216.5 L353.3 220.4 L357.9 202.8 L364.0 193.7 L373.1 184.0 L384.1 176.1 L395.0 165.1 L406.0 160.6 L417.0 153.3 L424.3 158.7 L429.8 156.0 L434.3 145.0 L444.4 141.4 L455.3 137.7 L466.3 135.0 L480.0 132.5 L488.3 131.4 L494.4 133.4 L500.5 129.3 L514.7 128.3 L541.1 127.3 L561.4 128.3 L571.5 131.0 L585.7 130.4 L592.8 138.5 L600.0 133.0 L612.1 135.4 L624.3 139.5 L632.4 141.5 L639.5 144.6 L649.7 145.8 L655.9 159.5 L664.5 268.7 L674.1 155.0 L679.8 158.4 L688.0 300.7 L700.2 177.7 L708.2 184.5 L721.8 193.6 L735.5 207.3 L753.4 220.1 L768.9 312.0 L783.3 254.2 L794.0 349.4 L801.5 279.9 L810.6 337.6 L820.8 298.6 L829.9 316.8 L838.6 323.7 L848.5 369.4 L857.1 354.5 L866.7 397.2 L875.3 390.8 L883.8 407.9 L894.5 440.0 L904.1 447.4 L913.7 464.5 L924.4 487.0 L934.0 520.1 L946.8 526.5" stroke="#0000ff"/>
<path d="M189.0 809.7 L198.7 713.5 L204.4 640.0 L209.1 600.4 L213.1 567.0 L218.4 546.9 L222.4 526.9 L227.8 488.1 L231.1 486.8 L232.4 453.4 L235.1 440.0 L237.6 430.1 L243.5 405.0 L249.8 370.3 L257.4 339.9 L265.0 309.4 L271.9 286.6 L275.7 283.5 L283.3 262.2 L289.1 282.0 L292.4 236.3 L301.6 218.1 L311.0 199.9 L321.9 177.9 L330.2 166.0 L333.8 166.0 L338.4 152.3 L348.4 145.0 L353.0 154.2 L357.6 132.2 L365.8 123.1 L376.8 114.0 L389.5 104.8 L402.3 98.4 L411.5 96.6 L421.5 91.1 L426.1 104.8 L431.6 87.5 L444.4 83.8 L459.0 82.0 L470.0 81.6 L490.3 82.2 L496.4 84.3 L502.5 82.2 L520.8 85.1 L541.1 88.7 L561.4 93.8 L571.5 96.9 L583.7 100.9 L595.9 109.0 L602.0 106.0 L616.2 112.1 L632.4 118.2 L640.0 124.3 L646.8 122.0 L653.6 125.5 L666.0 238.8 L673.0 134.5 L680.9 140.2 L688.4 394.7 L695.7 150.5 L705.9 164.1 L719.5 173.2 L735.5 186.8 L740.0 193.4 L755.0 206.8 L768.9 308.8 L784.4 239.3 L792.4 345.1 L800.5 260.6 L809.5 345.1 L817.0 283.1 L825.2 293.6 L833.6 305.3 L840.0 312.8 L849.6 355.6 L858.2 338.5 L866.7 376.9 L875.3 369.4 L884.9 382.3 L894.5 417.5 L903.0 411.1 L912.6 428.2 L922.3 440.0 L931.9 472.0 L940.4 474.1 L952.2 480.6" stroke="#ff0000"/>
</g>
<g clip-path="url(#cb)" stroke-linecap="butt">
<g stroke="#000080" stroke-opacity="0.75" stroke-width="3" fill="none">
<path d="M189.4 1244.1V1299.1"/><path d="M187.8 1271.6H190.9"/>
<path d="M193.1 1195.6V1250.6"/><path d="M191.5 1223.1H194.6"/>
<path d="M196.8 1167.2V1222.2"/><path d="M195.2 1194.7H198.3"/>
<path d="M200.5 1164.7V1219.7"/><path d="M198.9 1192.2H202.1"/>
<path d="M204.3 1135.1V1190.2"/><path d="M202.7 1162.6H205.8"/>
<path d="M208.0 1133.1V1188.1"/><path d="M206.4 1160.6H209.6"/>
<path d="M211.8 1147.4V1202.5"/><path d="M210.2 1175.0H213.4"/>
<path d="M215.6 1176.8V1231.9"/><path d="M214.0 1204.4H217.2"/>
<path d="M219.4 1238.1V1293.2"/><path d="M217.8 1265.6H221.0"/>
<path d="M223.2 1269.7V1324.7"/><path d="M221.6 1297.2H224.8"/>
<path d="M227.0 1273.8V1328.8"/><path d="M225.4 1301.3H228.6"/>
<path d="M230.8 1234.0V1289.0"/><path d="M229.2 1261.5H232.4"/>
<path d="M234.7 1238.0V1293.0"/><path d="M233.0 1265.5H236.3"/>
<path d="M238.5 1231.9V1286.9"/><path d="M236.9 1259.4H240.1"/>
<path d="M242.4 1229.4V1284.4"/><path d="M240.7 1256.9H244.0"/>
<path d="M246.2 1210.9V1266.0"/><path d="M244.6 1238.4H247.9"/>
<path d="M250.1 1207.8V1262.8"/><path d="M248.5 1235.3H251.8"/>
<path d="M254.0 1203.0V1258.0"/><path d="M252.4 1230.5H255.7"/>
<path d="M258.0 1200.1V1255.1"/><path d="M256.3 1227.6H259.7"/>
<path d="M262.0 1188.3V1243.4"/><path d="M260.3 1215.8H263.8"/>
<path d="M266.1 1181.1V1236.1"/><path d="M264.4 1208.6H267.9"/>
<path d="M270.3 1181.0V1236.0"/><path d="M268.5 1208.5H272.0"/>
<path d="M274.5 1175.6V1230.6"/><path d="M272.6 1203.1H276.3"/>
<path d="M278.7 1184.3V1239.3"/><path d="M276.9 1211.8H280.6"/>
<path d="M283.1 1231.3V1286.4"/><path d="M281.2 1258.8H284.9"/>
<path d="M287.5 1218.9V1273.9"/><path d="M285.5 1246.4H289.4"/>
<path d="M291.9 1193.0V1248.1"/><path d="M290.0 1220.6H293.9"/>
<path d="M296.5 1194.7V1249.7"/><path d="M294.5 1222.2H298.4"/>
<path d="M301.1 1186.4V1241.4"/><path d="M299.0 1213.9H303.1"/>
<path d="M305.7 1186.8V1241.8"/><path d="M303.7 1214.3H307.8"/>
<path d="M310.5 1161.1V1216.2"/><path d="M308.4 1188.7H312.6"/>
<path d="M315.3 1206.1V1261.1"/><path d="M313.2 1233.6H317.4"/>
<path d="M320.2 1196.4V1251.5"/><path d="M318.0 1224.0H322.3"/>
<path d="M325.1 1162.8V1217.8"/><path d="M322.9 1190.3H327.3"/>
<path d="M330.1 1180.5V1235.5"/><path d="M327.9 1208.0H332.4"/>
<path d="M335.2 1178.8V1233.8"/><path d="M333.0 1206.3H337.5"/>
<path d="M340.4 1193.4V1248.4"/><path d="M338.1 1220.9H342.6"/>
<path d="M345.5 1207.4V1262.4"/><path d="M343.2 1234.9H347.9"/>
<path d="M350.8 1181.1V1236.2"/><path d="M348.5 1208.6H353.1"/>
<path d="M356.1 1184.3V1239.4"/><path d="M353.7 1211.8H358.5"/>
<path d="M361.5 1205.1V1260.2"/><path d="M359.1 1232.6H363.8"/>
<path d="M366.9 1200.1V1255.1"/><path d="M364.4 1227.6H369.3"/>
<path d="M372.4 1192.5V1247.5"/><path d="M369.9 1220.0H374.8"/>
<path d="M377.9 1204.5V1259.6"/><path d="M375.4 1232.0H380.4"/>
<path d="M383.5 1192.9V1247.9"/><path d="M381.0 1220.4H386.0"/>
<path d="M389.2 1190.2V1245.2"/><path d="M386.6 1217.7H391.7"/>
<path d="M394.9 1191.1V1246.1"/><path d="M392.3 1218.6H397.5"/>
<path d="M400.7 1196.5V1251.5"/><path d="M398.1 1224.0H403.3"/>
<path d="M406.5 1178.7V1233.7"/><path d="M403.9 1206.2H409.2"/>
<path d="M412.4 1171.9V1226.9"/><path d="M409.8 1199.4H415.1"/>
<path d="M418.4 1191.5V1246.5"/><path d="M415.7 1219.0H421.1"/>
<path d="M424.4 1222.4V1277.4"/><path d="M421.7 1249.9H427.1"/>
<path d="M430.4 1193.8V1248.8"/><path d="M427.7 1221.3H433.1"/>
<path d="M436.5 1205.2V1260.2"/><path d="M433.7 1232.7H439.2"/>
<path d="M442.5 1182.1V1237.1"/><path d="M439.8 1209.6H445.2"/>
<path d="M448.5 1208.4V1263.4"/><path d="M445.8 1235.9H451.3"/>
<path d="M454.6 1180.4V1235.4"/><path d="M451.9 1207.9H457.3"/>
<path d="M460.7 1192.7V1247.7"/><path d="M457.9 1220.2H463.4"/>
<path d="M466.8 1209.0V1264.0"/><path d="M464.0 1236.5H469.5"/>
<path d="M472.8 1195.6V1250.6"/><path d="M470.1 1223.1H475.6"/>
<path d="M478.9 1190.1V1245.1"/><path d="M476.2 1217.6H481.7"/>
<path d="M485.1 1186.6V1241.6"/><path d="M482.3 1214.1H487.8"/>
<path d="M491.2 1203.4V1258.4"/><path d="M488.4 1230.9H494.0"/>
<path d="M497.3 1204.7V1259.7"/><path d="M494.6 1232.2H500.1"/>
<path d="M503.5 1186.2V1241.2"/><path d="M500.7 1213.7H506.2"/>
<path d="M509.6 1192.9V1247.9"/><path d="M506.8 1220.4H512.4"/>
<path d="M515.8 1179.5V1234.5"/><path d="M513.0 1207.0H518.6"/>
<path d="M522.0 1168.6V1223.6"/><path d="M519.2 1196.1H524.8"/>
<path d="M528.2 1198.0V1253.0"/><path d="M525.4 1225.5H531.0"/>
<path d="M534.4 1168.9V1223.9"/><path d="M531.6 1196.4H537.2"/>
<path d="M540.6 1156.2V1211.2"/><path d="M537.8 1183.7H543.4"/>
<path d="M546.8 1177.7V1232.8"/><path d="M544.0 1205.3H549.6"/>
<path d="M553.0 1185.7V1240.7"/><path d="M550.2 1213.2H555.8"/>
<path d="M559.3 1166.0V1221.0"/><path d="M556.4 1193.5H562.1"/>
<path d="M565.5 1180.8V1235.8"/><path d="M562.7 1208.3H568.3"/>
<path d="M571.8 1181.5V1236.6"/><path d="M568.9 1209.1H574.6"/>
<path d="M578.1 1208.3V1263.3"/><path d="M575.2 1235.8H580.9"/>
<path d="M584.3 1231.6V1286.6"/><path d="M581.5 1259.1H587.2"/>
<path d="M590.6 1220.2V1275.2"/><path d="M587.8 1247.7H593.5"/>
<path d="M596.9 1221.7V1276.8"/><path d="M594.1 1249.3H599.8"/>
<path d="M603.3 1196.1V1251.1"/><path d="M600.4 1223.6H606.1"/>
<path d="M609.6 1196.9V1251.9"/><path d="M606.7 1224.4H612.5"/>
<path d="M615.9 1216.2V1271.3"/><path d="M613.1 1243.8H618.8"/>
<path d="M622.3 1204.5V1259.5"/><path d="M619.4 1232.0H625.2"/>
<path d="M628.7 1170.2V1225.2"/><path d="M625.8 1197.7H631.5"/>
<path d="M635.0 1167.2V1222.2"/><path d="M632.1 1194.7H637.9"/>
<path d="M641.4 1179.6V1234.6"/><path d="M638.5 1207.1H644.3"/>
<path d="M647.8 1171.1V1226.1"/><path d="M644.9 1198.6H650.7"/>
<path d="M654.3 1166.9V1221.9"/><path d="M651.3 1194.4H657.2"/>
<path d="M660.8 1168.5V1223.5"/><path d="M657.8 1196.0H663.8"/>
<path d="M667.4 1164.9V1219.9"/><path d="M664.4 1192.4H670.5"/>
<path d="M674.1 1180.7V1235.7"/><path d="M671.1 1208.2H677.2"/>
<path d="M680.9 1196.8V1251.8"/><path d="M677.8 1224.3H684.0"/>
<path d="M687.8 1210.4V1265.4"/><path d="M684.6 1237.9H690.9"/>
<path d="M694.7 1193.9V1248.9"/><path d="M691.5 1221.4H697.9"/>
<path d="M701.7 1239.8V1294.8"/><path d="M698.5 1267.3H705.0"/>
<path d="M708.8 1211.2V1266.2"/><path d="M705.6 1238.7H712.1"/>
<path d="M716.0 1209.2V1264.3"/><path d="M712.7 1236.8H719.4"/>
<path d="M723.3 1229.7V1284.8"/><path d="M720.0 1257.3H726.7"/>
<path d="M730.7 1206.0V1261.0"/><path d="M727.3 1233.5H734.1"/>
<path d="M738.1 1217.0V1272.0"/><path d="M734.7 1244.5H741.6"/>
<path d="M745.7 1190.8V1245.9"/><path d="M742.2 1218.3H749.2"/>
<path d="M753.4 1199.0V1254.1"/><path d="M749.8 1226.6H756.9"/>
<path d="M761.1 1182.7V1237.7"/><path d="M757.5 1210.2H764.8"/>
<path d="M769.0 1174.2V1229.2"/><path d="M765.4 1201.7H772.7"/>
<path d="M777.0 1185.1V1240.1"/><path d="M773.3 1212.6H780.7"/>
<path d="M785.1 1201.8V1256.8"/><path d="M781.3 1229.3H788.9"/>
<path d="M793.4 1210.0V1265.0"/><path d="M789.5 1237.5H797.2"/>
<path d="M801.7 1174.3V1229.3"/><path d="M797.8 1201.8H805.6"/>
<path d="M810.2 1204.7V1259.7"/><path d="M806.2 1232.2H814.1"/>
<path d="M818.7 1181.6V1236.6"/><path d="M814.7 1209.1H822.8"/>
<path d="M827.4 1164.0V1219.0"/><path d="M823.4 1191.5H831.5"/>
<path d="M836.3 1171.3V1226.3"/><path d="M832.1 1198.8H840.5"/>
<path d="M845.5 1171.6V1226.6"/><path d="M841.1 1199.1H849.9"/>
<path d="M855.0 1199.6V1254.7"/><path d="M850.5 1227.1H859.5"/>
<path d="M864.8 1201.4V1256.4"/><path d="M860.1 1228.9H869.5"/>
<path d="M875.0 1217.5V1272.5"/><path d="M870.1 1245.0H879.9"/>
<path d="M885.6 1215.5V1270.5"/><path d="M880.5 1243.0H890.6"/>
<path d="M896.5 1229.8V1284.8"/><path d="M891.2 1257.3H901.7"/>
<path d="M907.7 1252.1V1307.1"/><path d="M902.3 1279.6H913.2"/>
<path d="M919.4 1178.5V1233.5"/><path d="M913.8 1206.0H925.1"/>
<path d="M931.4 1233.5V1288.5"/><path d="M925.7 1261.0H937.2"/>
<path d="M943.8 1189.5V1244.6"/><path d="M937.8 1217.0H949.7"/>
<path d="M956.4 1179.2V1234.2"/><path d="M950.3 1206.7H962.4"/>
</g>
<g stroke="#8b0000" stroke-opacity="0.75" stroke-width="3" fill="none">
<path d="M189.4 1245.4V1300.4"/><path d="M187.8 1272.9H191.0"/>
<path d="M193.1 1205.9V1260.9"/><path d="M191.6 1233.4H194.7"/>
<path d="M196.9 1172.8V1227.8"/><path d="M195.3 1200.3H198.5"/>
<path d="M200.7 1174.0V1229.0"/><path d="M199.1 1201.5H202.3"/>
<path d="M204.5 1126.8V1181.8"/><path d="M202.9 1154.3H206.1"/>
<path d="M208.3 1127.0V1182.1"/><path d="M206.7 1154.6H209.9"/>
<path d="M212.1 1147.4V1202.4"/><path d="M210.5 1174.9H213.7"/>
<path d="M215.9 1180.4V1235.4"/><path d="M214.3 1207.9H217.6"/>
<path d="M219.8 1246.4V1301.4"/><path d="M218.2 1273.9H221.4"/>
<path d="M223.6 1278.2V1333.2"/><path d="M222.0 1305.7H225.3"/>
<path d="M227.5 1265.1V1320.1"/><path d="M225.9 1292.6H229.1"/>
<path d="M231.4 1240.3V1295.3"/><path d="M229.7 1267.8H233.0"/>
<path d="M235.3 1234.1V1289.1"/><path d="M233.6 1261.6H236.9"/>
<path d="M239.2 1237.6V1292.7"/><path d="M237.5 1265.2H240.8"/>
<path d="M243.1 1219.0V1274.0"/><path d="M241.4 1246.5H244.8"/>
<path d="M247.0 1216.0V1271.0"/><path d="M245.4 1243.5H248.7"/>
<path d="M251.0 1200.6V1255.6"/><path d="M249.3 1228.1H252.6"/>
<path d="M254.9 1201.6V1256.7"/><path d="M253.2 1229.1H256.6"/>
<path d="M259.0 1183.5V1238.5"/><path d="M257.2 1211.0H260.7"/>
<path d="M263.1 1187.1V1242.1"/><path d="M261.3 1214.6H264.8"/>
<path d="M267.2 1160.7V1215.7"/><path d="M265.4 1188.2H269.0"/>
<path d="M271.4 1167.4V1222.4"/><path d="M269.6 1194.9H273.2"/>
<path d="M275.7 1177.3V1232.4"/><path d="M273.8 1204.8H277.6"/>
<path d="M280.0 1176.1V1231.1"/><path d="M278.2 1203.6H281.9"/>
<path d="M284.5 1192.9V1248.0"/><path d="M282.5 1220.4H286.4"/>
<path d="M288.9 1166.2V1221.3"/><path d="M287.0 1193.8H290.9"/>
<path d="M293.5 1146.5V1201.5"/><path d="M291.5 1174.0H295.5"/>
<path d="M298.1 1196.4V1251.5"/><path d="M296.1 1224.0H300.1"/>
<path d="M302.8 1198.2V1253.2"/><path d="M300.7 1225.7H304.8"/>
<path d="M307.5 1195.6V1250.6"/><path d="M305.4 1223.1H309.6"/>
<path d="M312.4 1163.8V1218.8"/><path d="M310.2 1191.3H314.5"/>
<path d="M317.3 1174.1V1229.1"/><path d="M315.1 1201.6H319.4"/>
<path d="M322.2 1161.5V1216.5"/><path d="M320.0 1189.0H324.4"/>
<path d="M327.3 1165.2V1220.2"/><path d="M325.0 1192.7H329.5"/>
<path d="M332.4 1170.7V1225.7"/><path d="M330.1 1198.2H334.7"/>
<path d="M337.6 1168.1V1223.1"/><path d="M335.3 1195.6H339.9"/>
<path d="M342.8 1172.8V1227.8"/><path d="M340.5 1200.3H345.1"/>
<path d="M348.1 1156.9V1211.9"/><path d="M345.7 1184.4H350.4"/>
<path d="M353.4 1185.0V1240.1"/><path d="M351.0 1212.5H355.8"/>
<path d="M358.8 1177.7V1232.8"/><path d="M356.4 1205.3H361.2"/>
<path d="M364.3 1171.1V1226.1"/><path d="M361.8 1198.6H366.7"/>
<path d="M369.8 1151.6V1206.7"/><path d="M367.3 1179.1H372.3"/>
<path d="M375.4 1186.9V1241.9"/><path d="M372.9 1214.4H377.9"/>
<path d="M381.0 1191.3V1246.3"/><path d="M378.5 1218.8H383.6"/>
<path d="M386.7 1184.2V1239.2"/><path d="M384.2 1211.7H389.3"/>
<path d="M392.5 1163.1V1218.1"/><path d="M389.9 1190.6H395.1"/>
<path d="M398.3 1180.5V1235.5"/><path d="M395.7 1208.0H401.0"/>
<path d="M404.2 1161.3V1216.3"/><path d="M401.6 1188.8H406.9"/>
<path d="M410.2 1207.5V1262.5"/><path d="M407.5 1235.0H412.9"/>
<path d="M416.2 1175.1V1230.1"/><path d="M413.5 1202.6H419.0"/>
<path d="M422.3 1200.7V1255.7"/><path d="M419.6 1228.2H425.1"/>
<path d="M428.4 1237.4V1292.4"/><path d="M425.7 1264.9H431.2"/>
<path d="M434.5 1212.8V1267.8"/><path d="M431.8 1240.3H437.3"/>
<path d="M440.6 1193.6V1248.6"/><path d="M437.9 1221.1H443.4"/>
<path d="M446.8 1207.7V1262.7"/><path d="M444.0 1235.2H449.5"/>
<path d="M452.9 1194.6V1249.6"/><path d="M450.1 1222.1H455.7"/>
<path d="M459.0 1175.0V1230.0"/><path d="M456.3 1202.5H461.8"/>
<path d="M465.2 1203.3V1258.3"/><path d="M462.4 1230.8H468.0"/>
<path d="M471.4 1210.4V1265.4"/><path d="M468.6 1237.9H474.1"/>
<path d="M477.5 1216.6V1271.7"/><path d="M474.7 1244.2H480.3"/>
<path d="M483.7 1196.7V1251.7"/><path d="M480.9 1224.2H486.5"/>
<path d="M489.9 1207.8V1262.8"/><path d="M487.1 1235.3H492.7"/>
<path d="M496.1 1207.1V1262.1"/><path d="M493.3 1234.6H499.0"/>
<path d="M502.4 1205.6V1260.6"/><path d="M499.6 1233.1H505.2"/>
<path d="M508.6 1193.3V1248.3"/><path d="M505.8 1220.8H511.4"/>
<path d="M514.8 1213.1V1268.1"/><path d="M512.0 1240.6H517.7"/>
<path d="M521.1 1215.7V1270.7"/><path d="M518.3 1243.2H523.9"/>
<path d="M527.4 1224.4V1279.4"/><path d="M524.5 1251.9H530.2"/>
<path d="M533.6 1171.0V1226.0"/><path d="M530.8 1198.5H536.5"/>
<path d="M539.9 1187.1V1242.1"/><path d="M537.1 1214.6H542.8"/>
<path d="M546.2 1168.0V1223.0"/><path d="M543.4 1195.5H549.1"/>
<path d="M552.6 1189.3V1244.3"/><path d="M549.7 1216.8H555.4"/>
<path d="M558.9 1199.1V1254.1"/><path d="M556.0 1226.6H561.7"/>
<path d="M565.2 1187.8V1242.8"/><path d="M562.3 1215.3H568.1"/>
<path d="M571.6 1203.0V1258.1"/><path d="M568.7 1230.6H574.4"/>
<path d="M577.9 1226.9V1281.9"/><path d="M575.0 1254.4H580.8"/>
<path d="M584.3 1227.6V1282.6"/><path d="M581.4 1255.1H587.2"/>
<path d="M590.7 1196.6V1251.6"/><path d="M587.8 1224.1H593.5"/>
<path d="M597.0 1210.6V1265.7"/><path d="M594.1 1238.1H599.9"/>
<path d="M603.5 1200.8V1255.8"/><path d="M600.5 1228.3H606.4"/>
<path d="M609.9 1203.1V1258.1"/><path d="M607.0 1230.6H612.8"/>
<path d="M616.3 1203.0V1258.0"/><path d="M613.4 1230.5H619.2"/>
<path d="M622.7 1175.4V1230.4"/><path d="M619.8 1202.9H625.6"/>
<path d="M629.2 1183.3V1238.3"/><path d="M626.2 1210.8H632.1"/>
<path d="M635.6 1186.5V1241.5"/><path d="M632.7 1214.0H638.6"/>
<path d="M642.1 1172.0V1227.0"/><path d="M639.2 1199.5H645.0"/>
<path d="M648.6 1183.7V1238.7"/><path d="M645.6 1211.2H651.6"/>
<path d="M655.2 1170.6V1225.6"/><path d="M652.2 1198.1H658.1"/>
<path d="M661.8 1159.7V1214.7"/><path d="M658.7 1187.2H664.8"/>
<path d="M668.5 1188.8V1243.8"/><path d="M665.4 1216.3H671.6"/>
<path d="M675.3 1166.5V1221.5"/><path d="M672.2 1194.0H678.4"/>
<path d="M682.2 1206.8V1261.8"/><path d="M679.0 1234.3H685.3"/>
<path d="M689.1 1206.0V1261.0"/><path d="M685.9 1233.5H692.3"/>
<path d="M696.2 1220.0V1275.0"/><path d="M692.9 1247.5H699.4"/>
<path d="M703.3 1212.0V1267.0"/><path d="M700.0 1239.5H706.6"/>
<path d="M710.5 1208.7V1263.7"/><path d="M707.2 1236.2H713.9"/>
<path d="M717.8 1215.8V1270.8"/><path d="M714.5 1243.3H721.2"/>
<path d="M725.2 1219.9V1274.9"/><path d="M721.8 1247.4H728.7"/>
<path d="M732.7 1220.0V1275.0"/><path d="M729.3 1247.5H736.2"/>
<path d="M740.3 1217.8V1272.8"/><path d="M736.8 1245.3H743.8"/>
<path d="M748.0 1222.7V1277.7"/><path d="M744.4 1250.2H751.6"/>
<path d="M755.8 1199.2V1254.2"/><path d="M752.2 1226.7H759.4"/>
<path d="M763.7 1185.9V1240.9"/><path d="M760.0 1213.4H767.4"/>
<path d="M771.7 1178.3V1233.3"/><path d="M768.0 1205.8H775.5"/>
<path d="M779.9 1181.3V1236.3"/><path d="M776.1 1208.8H783.7"/>
<path d="M788.1 1155.7V1210.8"/><path d="M784.3 1183.3H792.0"/>
<path d="M796.5 1184.5V1239.5"/><path d="M792.6 1212.0H800.4"/>
<path d="M805.0 1252.1V1307.1"/><path d="M801.0 1279.6H809.0"/>
<path d="M813.6 1164.9V1219.9"/><path d="M809.6 1192.4H817.7"/>
<path d="M822.4 1178.9V1233.9"/><path d="M818.3 1206.4H826.5"/>
<path d="M831.2 1106.3V1161.3"/><path d="M827.1 1133.8H835.4"/>
<path d="M840.4 1185.1V1240.1"/><path d="M836.0 1212.6H844.7"/>
<path d="M849.8 1187.9V1243.0"/><path d="M845.3 1215.4H854.3"/>
<path d="M859.6 1227.9V1282.9"/><path d="M854.9 1255.4H864.2"/>
<path d="M869.7 1189.9V1245.0"/><path d="M864.8 1217.5H874.5"/>
<path d="M880.2 1252.1V1307.1"/><path d="M875.1 1279.6H885.2"/>
<path d="M891.0 1238.0V1293.1"/><path d="M885.8 1265.6H896.2"/>
<path d="M902.3 1182.7V1237.7"/><path d="M896.8 1210.2H907.7"/>
<path d="M913.9 1180.6V1235.6"/><path d="M908.3 1208.1H919.5"/>
<path d="M925.9 1208.6V1263.6"/><path d="M920.1 1236.1H931.7"/>
<path d="M938.3 1191.2V1246.2"/><path d="M932.3 1218.7H944.2"/>
<path d="M950.9 1175.4V1230.5"/><path d="M944.8 1203.0H957.0"/>
</g>
<g stroke="#0000ff" stroke-opacity="0.75" stroke-width="3" fill="none">
<path d="M189.3 1230.0V1285.0"/><path d="M187.8 1257.5H190.9"/>
<path d="M193.0 1225.0V1280.0"/><path d="M191.5 1252.5H194.5"/>
<path d="M196.7 1167.2V1222.2"/><path d="M195.1 1194.7H198.2"/>
<path d="M200.3 1158.9V1213.9"/><path d="M198.8 1186.4H201.9"/>
<path d="M204.0 1147.4V1202.5"/><path d="M202.5 1175.0H205.6"/>
<path d="M207.8 1138.7V1193.8"/><path d="M206.2 1166.2H209.3"/>
<path d="M211.5 1158.7V1213.7"/><path d="M209.9 1186.2H213.0"/>
<path d="M215.2 1178.9V1233.9"/><path d="M213.6 1206.4H216.8"/>
<path d="M218.9 1241.7V1296.7"/><path d="M217.4 1269.2H220.5"/>
<path d="M222.7 1241.5V1296.6"/><path d="M221.1 1269.1H224.3"/>
<path d="M226.5 1272.0V1327.0"/><path d="M224.9 1299.5H228.0"/>
<path d="M230.2 1243.9V1299.0"/><path d="M228.6 1271.4H231.8"/>
<path d="M234.0 1233.9V1288.9"/><path d="M232.4 1261.4H235.6"/>
<path d="M237.8 1236.8V1291.8"/><path d="M236.2 1264.3H239.4"/>
<path d="M241.6 1236.3V1291.3"/><path d="M240.0 1263.8H243.2"/>
<path d="M245.5 1222.0V1277.0"/><path d="M243.8 1249.5H247.1"/>
<path d="M249.3 1205.5V1260.5"/><path d="M247.7 1233.0H250.9"/>
<path d="M253.2 1204.5V1259.5"/><path d="M251.5 1232.0H254.8"/>
<path d="M257.1 1184.2V1239.2"/><path d="M255.4 1211.7H258.7"/>
<path d="M261.0 1189.3V1244.3"/><path d="M259.3 1216.8H262.7"/>
<path d="M265.0 1182.8V1237.8"/><path d="M263.3 1210.3H266.7"/>
<path d="M269.1 1160.7V1215.7"/><path d="M267.3 1188.2H270.8"/>
<path d="M273.2 1182.0V1237.0"/><path d="M271.4 1209.5H275.0"/>
<path d="M277.4 1205.7V1260.7"/><path d="M275.6 1233.2H279.2"/>
<path d="M281.7 1199.6V1254.6"/><path d="M279.8 1227.1H283.5"/>
<path d="M286.0 1187.6V1242.6"/><path d="M284.1 1215.1H287.9"/>
<path d="M290.4 1166.2V1221.2"/><path d="M288.5 1193.7H292.3"/>
<path d="M294.8 1194.3V1249.3"/><path d="M292.9 1221.8H296.8"/>
<path d="M299.4 1193.9V1248.9"/><path d="M297.4 1221.4H301.3"/>
<path d="M303.9 1177.2V1232.2"/><path d="M301.9 1204.7H305.9"/>
<path d="M308.6 1203.7V1258.7"/><path d="M306.5 1231.2H310.6"/>
<path d="M313.3 1196.0V1251.0"/><path d="M311.2 1223.5H315.4"/>
<path d="M318.1 1180.3V1235.3"/><path d="M316.0 1207.8H320.2"/>
<path d="M323.0 1184.9V1239.9"/><path d="M320.8 1212.4H325.1"/>
<path d="M327.9 1190.2V1245.2"/><path d="M325.7 1217.7H330.1"/>
<path d="M332.9 1180.7V1235.8"/><path d="M330.7 1208.2H335.1"/>
<path d="M337.9 1227.3V1282.3"/><path d="M335.7 1254.8H340.2"/>
<path d="M343.0 1172.9V1227.9"/><path d="M340.8 1200.4H345.3"/>
<path d="M348.2 1198.5V1253.6"/><path d="M345.9 1226.1H350.5"/>
<path d="M353.4 1208.9V1264.0"/><path d="M351.1 1236.4H355.7"/>
<path d="M358.6 1184.6V1239.6"/><path d="M356.3 1212.1H361.0"/>
<path d="M364.0 1181.1V1236.1"/><path d="M361.6 1208.6H366.3"/>
<path d="M369.3 1199.0V1254.0"/><path d="M366.9 1226.5H371.7"/>
<path d="M374.8 1207.7V1262.7"/><path d="M372.3 1235.2H377.2"/>
<path d="M380.3 1192.6V1247.6"/><path d="M377.8 1220.1H382.7"/>
<path d="M385.8 1193.6V1248.7"/><path d="M383.3 1221.1H388.3"/>
<path d="M391.4 1173.6V1228.6"/><path d="M388.9 1201.1H393.9"/>
<path d="M397.1 1182.1V1237.1"/><path d="M394.5 1209.6H399.7"/>
<path d="M402.8 1186.7V1241.7"/><path d="M400.3 1214.2H405.4"/>
<path d="M408.6 1171.0V1226.1"/><path d="M406.0 1198.5H411.2"/>
<path d="M414.5 1186.4V1241.4"/><path d="M411.8 1213.9H417.1"/>
<path d="M420.4 1214.5V1269.6"/><path d="M417.7 1242.0H423.1"/>
<path d="M426.3 1199.9V1254.9"/><path d="M423.7 1227.4H429.0"/>
<path d="M432.3 1192.3V1247.3"/><path d="M429.6 1219.8H434.9"/>
<path d="M438.2 1198.6V1253.6"/><path d="M435.5 1226.1H440.9"/>
<path d="M444.2 1203.4V1258.5"/><path d="M441.5 1231.0H446.9"/>
<path d="M450.2 1188.9V1243.9"/><path d="M447.5 1216.4H452.9"/>
<path d="M456.1 1225.8V1280.8"/><path d="M453.5 1253.3H458.8"/>
<path d="M462.1 1181.4V1236.4"/><path d="M459.4 1208.9H464.8"/>
<path d="M468.1 1183.5V1238.5"/><path d="M465.4 1211.0H470.9"/>
<path d="M474.2 1212.3V1267.4"/><path d="M471.5 1239.8H476.9"/>
<path d="M480.2 1188.5V1243.5"/><path d="M477.5 1216.0H482.9"/>
<path d="M486.2 1202.1V1257.2"/><path d="M483.5 1229.7H488.9"/>
<path d="M492.3 1178.0V1233.0"/><path d="M489.5 1205.5H495.0"/>
<path d="M498.3 1216.0V1271.0"/><path d="M495.6 1243.5H501.1"/>
<path d="M504.4 1200.1V1255.1"/><path d="M501.7 1227.6H507.1"/>
<path d="M510.5 1174.8V1229.8"/><path d="M507.7 1202.3H513.2"/>
<path d="M516.6 1165.0V1220.0"/><path d="M513.8 1192.5H519.3"/>
<path d="M522.7 1206.9V1261.9"/><path d="M519.9 1234.4H525.4"/>
<path d="M528.8 1180.4V1235.4"/><path d="M526.0 1207.9H531.5"/>
<path d="M534.9 1166.6V1221.6"/><path d="M532.1 1194.1H537.6"/>
<path d="M541.0 1180.1V1235.1"/><path d="M538.2 1207.6H543.8"/>
<path d="M547.2 1150.4V1205.5"/><path d="M544.4 1177.9H549.9"/>
<path d="M553.3 1189.7V1244.7"/><path d="M550.5 1217.2H556.1"/>
<path d="M559.5 1170.4V1225.4"/><path d="M556.7 1197.9H562.3"/>
<path d="M565.6 1197.9V1252.9"/><path d="M562.9 1225.4H568.4"/>
<path d="M571.8 1173.8V1228.9"/><path d="M569.0 1201.4H574.6"/>
<path d="M578.0 1203.2V1258.2"/><path d="M575.2 1230.7H580.8"/>
<path d="M584.2 1215.8V1270.8"/><path d="M581.4 1243.3H587.0"/>
<path d="M590.4 1241.9V1296.9"/><path d="M587.6 1269.4H593.3"/>
<path d="M596.7 1192.8V1247.8"/><path d="M593.9 1220.3H599.5"/>
<path d="M602.9 1196.9V1251.9"/><path d="M600.1 1224.4H605.7"/>
<path d="M609.2 1189.6V1244.6"/><path d="M606.3 1217.1H612.0"/>
<path d="M615.4 1178.6V1233.7"/><path d="M612.6 1206.1H618.2"/>
<path d="M621.7 1183.8V1238.8"/><path d="M618.8 1211.3H624.5"/>
<path d="M628.0 1191.7V1246.8"/><path d="M625.1 1219.3H630.8"/>
<path d="M634.3 1188.3V1243.3"/><path d="M631.4 1215.8H637.1"/>
<path d="M640.6 1182.6V1237.6"/><path d="M637.7 1210.1H643.4"/>
<path d="M646.9 1151.9V1206.9"/><path d="M644.0 1179.4H649.7"/>
<path d="M653.2 1192.8V1247.8"/><path d="M650.3 1220.3H656.1"/>
<path d="M659.7 1182.8V1237.8"/><path d="M656.7 1210.3H662.6"/>
<path d="M666.2 1181.0V1236.0"/><path d="M663.2 1208.5H669.2"/>
<path d="M672.8 1178.9V1234.0"/><path d="M669.8 1206.4H675.8"/>
<path d="M679.5 1185.2V1240.2"/><path d="M676.4 1212.7H682.5"/>
<path d="M686.2 1221.4V1276.5"/><path d="M683.1 1248.9H689.3"/>
<path d="M693.0 1232.1V1287.1"/><path d="M689.9 1259.6H696.2"/>
<path d="M700.0 1208.8V1263.8"/><path d="M696.8 1236.3H703.1"/>
<path d="M707.0 1192.5V1247.5"/><path d="M703.7 1220.0H710.2"/>
<path d="M714.0 1199.2V1254.2"/><path d="M710.8 1226.7H717.3"/>
<path d="M721.2 1207.0V1262.1"/><path d="M717.9 1234.6H724.5"/>
<path d="M728.4 1214.8V1269.8"/><path d="M725.1 1242.3H731.8"/>
<path d="M735.8 1205.6V1260.7"/><path d="M732.4 1233.1H739.2"/>
<path d="M743.2 1207.8V1262.8"/><path d="M739.8 1235.3H746.6"/>
<path d="M750.7 1187.9V1242.9"/><path d="M747.2 1215.4H754.2"/>
<path d="M758.4 1204.7V1259.7"/><path d="M754.8 1232.2H761.9"/>
<path d="M766.1 1189.4V1244.4"/><path d="M762.5 1216.9H769.7"/>
<path d="M774.0 1192.1V1247.1"/><path d="M770.3 1219.6H777.6"/>
<path d="M781.9 1182.5V1237.6"/><path d="M778.2 1210.0H785.6"/>
<path d="M790.0 1186.3V1241.3"/><path d="M786.2 1213.8H793.8"/>
<path d="M798.2 1153.8V1208.9"/><path d="M794.4 1181.3H802.0"/>
<path d="M806.5 1190.8V1245.8"/><path d="M802.6 1218.3H810.4"/>
<path d="M814.9 1165.4V1220.4"/><path d="M811.0 1192.9H818.8"/>
<path d="M823.4 1192.8V1247.8"/><path d="M819.4 1220.3H827.4"/>
<path d="M832.1 1172.1V1227.1"/><path d="M828.0 1199.6H836.2"/>
<path d="M841.0 1120.0V1175.0"/><path d="M836.8 1147.5H845.3"/>
<path d="M850.3 1186.5V1241.5"/><path d="M845.9 1214.0H854.6"/>
<path d="M859.8 1232.2V1287.2"/><path d="M855.2 1259.7H864.3"/>
<path d="M869.7 1186.2V1241.2"/><path d="M864.9 1213.7H874.4"/>
<path d="M879.9 1199.6V1254.6"/><path d="M875.0 1227.1H884.8"/>
<path d="M890.4 1243.6V1298.7"/><path d="M885.4 1271.2H895.5"/>
<path d="M901.4 1220.8V1275.8"/><path d="M896.1 1248.3H906.6"/>
<path d="M912.7 1200.3V1255.3"/><path d="M907.2 1227.8H918.1"/>
<path d="M924.4 1206.3V1261.3"/><path d="M918.7 1233.8H930.0"/>
<path d="M936.4 1181.0V1236.0"/><path d="M930.6 1208.5H942.1"/>
<path d="M948.6 1114.5V1169.5"/><path d="M942.7 1142.0H954.5"/>
</g>
<g stroke="#ff0000" stroke-opacity="0.75" stroke-width="3" fill="none">
<path d="M189.4 1252.4V1307.4"/><path d="M187.8 1279.9H191.0"/>
<path d="M193.2 1201.9V1256.9"/><path d="M191.6 1229.4H194.8"/>
<path d="M197.0 1154.4V1209.4"/><path d="M195.4 1181.9H198.6"/>
<path d="M200.9 1146.9V1201.9"/><path d="M199.2 1174.4H202.5"/>
<path d="M204.7 1156.0V1211.0"/><path d="M203.1 1183.5H206.3"/>
<path d="M208.6 1137.2V1192.2"/><path d="M206.9 1164.7H210.2"/>
<path d="M212.4 1151.8V1206.8"/><path d="M210.8 1179.3H214.1"/>
<path d="M216.3 1191.5V1246.5"/><path d="M214.7 1219.0H218.0"/>
<path d="M220.2 1270.8V1325.8"/><path d="M218.6 1298.3H221.9"/>
<path d="M224.1 1271.8V1326.8"/><path d="M222.5 1299.3H225.8"/>
<path d="M228.0 1266.8V1321.8"/><path d="M226.4 1294.3H229.7"/>
<path d="M232.0 1221.2V1276.3"/><path d="M230.3 1248.8H233.6"/>
<path d="M235.9 1228.0V1283.0"/><path d="M234.2 1255.5H237.6"/>
<path d="M239.9 1225.3V1280.3"/><path d="M238.2 1252.8H241.5"/>
<path d="M243.8 1235.9V1291.0"/><path d="M242.1 1263.4H245.5"/>
<path d="M247.8 1191.8V1246.8"/><path d="M246.1 1219.3H249.5"/>
<path d="M251.8 1222.5V1277.5"/><path d="M250.1 1250.0H253.5"/>
<path d="M255.8 1181.5V1236.5"/><path d="M254.1 1209.0H257.6"/>
<path d="M259.9 1185.4V1240.4"/><path d="M258.2 1212.9H261.7"/>
<path d="M264.1 1184.7V1239.7"/><path d="M262.3 1212.2H265.9"/>
<path d="M268.3 1175.4V1230.5"/><path d="M266.5 1202.9H270.1"/>
<path d="M272.6 1179.9V1235.0"/><path d="M270.7 1207.5H274.4"/>
<path d="M276.9 1177.0V1232.0"/><path d="M275.0 1204.5H278.8"/>
<path d="M281.4 1180.9V1235.9"/><path d="M279.4 1208.4H283.3"/>
<path d="M285.8 1156.9V1211.9"/><path d="M283.9 1184.4H287.8"/>
<path d="M290.4 1200.1V1255.1"/><path d="M288.4 1227.6H292.4"/>
<path d="M295.0 1172.6V1227.6"/><path d="M293.0 1200.1H297.1"/>
<path d="M299.7 1185.0V1240.0"/><path d="M297.7 1212.5H301.8"/>
<path d="M304.5 1162.5V1217.5"/><path d="M302.4 1190.0H306.6"/>
<path d="M309.3 1202.8V1257.8"/><path d="M307.2 1230.3H311.5"/>
<path d="M314.3 1178.9V1233.9"/><path d="M312.1 1206.4H316.4"/>
<path d="M319.2 1171.8V1226.8"/><path d="M317.0 1199.3H321.5"/>
<path d="M324.3 1195.1V1250.1"/><path d="M322.1 1222.6H326.6"/>
<path d="M329.5 1159.5V1214.6"/><path d="M327.2 1187.1H331.7"/>
<path d="M334.7 1169.1V1224.1"/><path d="M332.3 1196.6H337.0"/>
<path d="M339.9 1156.1V1211.1"/><path d="M337.6 1183.6H342.3"/>
<path d="M345.2 1155.2V1210.2"/><path d="M342.9 1182.7H347.6"/>
<path d="M350.6 1180.3V1235.4"/><path d="M348.2 1207.8H353.0"/>
<path d="M356.1 1180.3V1235.3"/><path d="M353.6 1207.8H358.5"/>
<path d="M361.6 1174.6V1229.6"/><path d="M359.1 1202.1H364.0"/>
<path d="M367.1 1164.0V1219.0"/><path d="M364.6 1191.5H369.6"/>
<path d="M372.8 1163.3V1218.3"/><path d="M370.2 1190.8H375.3"/>
<path d="M378.4 1184.8V1239.8"/><path d="M375.9 1212.3H381.0"/>
<path d="M384.2 1183.4V1238.4"/><path d="M381.6 1210.9H386.8"/>
<path d="M390.0 1186.0V1241.0"/><path d="M387.4 1213.5H392.6"/>
<path d="M395.9 1183.1V1238.1"/><path d="M393.2 1210.6H398.5"/>
<path d="M401.8 1180.9V1235.9"/><path d="M399.1 1208.4H404.5"/>
<path d="M407.9 1182.1V1237.2"/><path d="M405.1 1209.7H410.6"/>
<path d="M413.9 1154.8V1209.8"/><path d="M411.2 1182.3H416.7"/>
<path d="M420.1 1213.3V1268.3"/><path d="M417.3 1240.8H422.9"/>
<path d="M426.2 1223.6V1278.6"/><path d="M423.5 1251.1H429.0"/>
<path d="M432.4 1211.4V1266.5"/><path d="M429.6 1239.0H435.2"/>
<path d="M438.6 1226.3V1281.3"/><path d="M435.8 1253.8H441.4"/>
<path d="M444.8 1215.6V1270.6"/><path d="M442.0 1243.1H447.6"/>
<path d="M451.0 1209.7V1264.7"/><path d="M448.2 1237.2H453.8"/>
<path d="M457.2 1198.6V1253.6"/><path d="M454.4 1226.1H460.1"/>
<path d="M463.5 1226.7V1281.7"/><path d="M460.7 1254.2H466.3"/>
<path d="M469.7 1189.1V1244.2"/><path d="M466.9 1216.7H472.5"/>
<path d="M476.0 1212.4V1267.4"/><path d="M473.1 1239.9H478.8"/>
<path d="M482.2 1204.7V1259.8"/><path d="M479.4 1232.2H485.1"/>
<path d="M488.5 1194.9V1250.0"/><path d="M485.7 1222.4H491.4"/>
<path d="M494.8 1197.0V1252.0"/><path d="M492.0 1224.5H497.7"/>
<path d="M501.1 1191.1V1246.1"/><path d="M498.3 1218.6H504.0"/>
<path d="M507.4 1201.9V1256.9"/><path d="M504.6 1229.4H510.3"/>
<path d="M513.7 1200.8V1255.8"/><path d="M510.9 1228.3H516.6"/>
<path d="M520.1 1192.3V1247.3"/><path d="M517.2 1219.8H522.9"/>
<path d="M526.4 1206.6V1261.6"/><path d="M523.5 1234.1H529.3"/>
<path d="M532.8 1172.3V1227.3"/><path d="M529.9 1199.8H535.7"/>
<path d="M539.1 1200.1V1255.1"/><path d="M536.3 1227.6H542.0"/>
<path d="M545.5 1207.4V1262.4"/><path d="M542.6 1234.9H548.4"/>
<path d="M551.9 1162.3V1217.3"/><path d="M549.0 1189.8H554.8"/>
<path d="M558.3 1191.9V1247.0"/><path d="M555.4 1219.5H561.2"/>
<path d="M564.7 1211.0V1266.0"/><path d="M561.8 1238.5H567.6"/>
<path d="M571.2 1176.8V1231.8"/><path d="M568.2 1204.3H574.1"/>
<path d="M577.6 1214.4V1269.4"/><path d="M574.7 1241.9H580.5"/>
<path d="M584.1 1201.0V1256.0"/><path d="M581.1 1228.5H587.0"/>
<path d="M590.5 1232.3V1287.4"/><path d="M587.6 1259.9H593.4"/>
<path d="M597.0 1219.0V1274.1"/><path d="M594.0 1246.5H599.9"/>
<path d="M603.5 1229.7V1284.7"/><path d="M600.5 1257.2H606.4"/>
<path d="M610.0 1225.5V1280.5"/><path d="M607.0 1253.0H612.9"/>
<path d="M616.5 1206.8V1261.8"/><path d="M613.5 1234.3H619.4"/>
<path d="M623.0 1188.5V1243.5"/><path d="M620.0 1216.0H626.0"/>
<path d="M629.5 1170.6V1225.6"/><path d="M626.6 1198.1H632.5"/>
<path d="M636.1 1142.3V1197.3"/><path d="M633.1 1169.8H639.0"/>
<path d="M642.6 1183.9V1238.9"/><path d="M639.6 1211.4H645.6"/>
<path d="M649.2 1157.6V1212.6"/><path d="M646.2 1185.1H652.2"/>
<path d="M655.8 1181.8V1236.8"/><path d="M652.8 1209.3H658.9"/>
<path d="M662.6 1177.6V1232.6"/><path d="M659.5 1205.1H665.7"/>
<path d="M669.4 1197.9V1252.9"/><path d="M666.3 1225.4H672.5"/>
<path d="M676.3 1065.0V1120.0"/><path d="M673.1 1092.5H679.4"/>
<path d="M683.3 1210.1V1265.1"/><path d="M680.0 1237.6H686.5"/>
<path d="M690.3 1224.6V1279.6"/><path d="M687.1 1252.1H693.6"/>
<path d="M697.5 1208.6V1263.7"/><path d="M694.2 1236.1H700.8"/>
<path d="M704.7 1218.7V1273.7"/><path d="M701.4 1246.2H708.1"/>
<path d="M712.0 1192.3V1247.3"/><path d="M708.7 1219.8H715.4"/>
<path d="M719.5 1207.8V1262.8"/><path d="M716.0 1235.3H722.9"/>
<path d="M727.0 1208.1V1263.1"/><path d="M723.5 1235.6H730.5"/>
<path d="M734.6 1194.9V1249.9"/><path d="M731.1 1222.4H738.1"/>
<path d="M742.3 1198.0V1253.0"/><path d="M738.7 1225.5H745.9"/>
<path d="M750.1 1200.1V1255.1"/><path d="M746.5 1227.6H753.7"/>
<path d="M758.0 1195.3V1250.3"/><path d="M754.3 1222.8H761.7"/>
<path d="M766.1 1192.9V1247.9"/><path d="M762.3 1220.4H769.8"/>
<path d="M774.2 1175.8V1230.8"/><path d="M770.4 1203.3H778.0"/>
<path d="M782.5 1179.2V1234.2"/><path d="M778.6 1206.7H786.4"/>
<path d="M790.9 1184.3V1239.3"/><path d="M787.0 1211.8H794.9"/>
<path d="M799.4 1181.3V1236.3"/><path d="M795.5 1208.8H803.4"/>
<path d="M808.1 1238.3V1293.3"/><path d="M804.0 1265.8H812.1"/>
<path d="M816.9 1171.9V1226.9"/><path d="M812.7 1199.4H821.0"/>
<path d="M825.8 1184.9V1239.9"/><path d="M821.6 1212.4H829.9"/>
<path d="M834.8 1149.7V1204.7"/><path d="M830.5 1177.2H839.1"/>
<path d="M844.2 1179.2V1234.3"/><path d="M839.7 1206.7H848.7"/>
<path d="M853.9 1197.4V1252.4"/><path d="M849.3 1224.9H858.5"/>
<path d="M864.0 1193.2V1248.2"/><path d="M859.1 1220.7H868.8"/>
<path d="M874.4 1206.9V1261.9"/><path d="M869.4 1234.4H879.4"/>
<path d="M885.2 1224.9V1279.9"/><path d="M880.0 1252.4H890.3"/>
<path d="M896.3 1199.4V1254.5"/><path d="M890.9 1227.0H901.7"/>
<path d="M907.9 1194.7V1249.7"/><path d="M902.3 1222.2H913.5"/>
<path d="M919.9 1212.7V1267.7"/><path d="M914.1 1240.2H925.7"/>
<path d="M932.2 1202.8V1257.8"/><path d="M926.3 1230.3H938.2"/>
<path d="M944.9 1178.4V1233.4"/><path d="M938.8 1205.9H951.0"/>
<path d="M957.8 1125.5V1180.5"/><path d="M951.6 1153.0H964.1"/>
</g>
</g>
<rect x="140.3" y="13.6" width="822.30" height="989.00" fill="none" stroke="#000" stroke-width="3.2" stroke-linejoin="miter"/>
<rect x="140.3" y="1059.5" width="822.30" height="330.10" fill="none" stroke="#000" stroke-width="3.2" stroke-linejoin="miter"/>
<path d="M140.30 1002.60H152.90 M140.30 385.27H152.90 M140.30 199.43H152.90 M140.30 90.73H152.90 M140.30 13.60H152.90 M231.67 1002.60V990.00 M231.67 1389.60V1377.00 M323.03 1002.60V990.00 M323.03 1389.60V1377.00 M414.40 1002.60V990.00 M414.40 1389.60V1377.00 M505.77 1002.60V990.00 M505.77 1389.60V1377.00 M597.13 1002.60V990.00 M597.13 1389.60V1377.00 M688.50 1002.60V990.00 M688.50 1389.60V1377.00 M779.87 1002.60V990.00 M779.87 1389.60V1377.00 M871.23 1002.60V990.00 M871.23 1389.60V1377.00 M140.30 1389.60H152.90 M140.30 1334.58H152.90 M140.30 1279.57H152.90 M140.30 1224.55H152.90 M140.30 1169.53H152.90 M140.30 1114.52H152.90 M140.30 1059.50H152.90" stroke="#000" stroke-width="3.2" fill="none"/>
<path d="M138.70 816.77H136.50 M138.70 708.06H136.50 M138.70 630.93H136.50 M138.70 571.10H136.50 M138.70 522.22H136.50 M138.70 480.90H136.50 M138.70 445.10H136.50 M138.70 413.52H136.50" stroke="#000" stroke-width="1.2" fill="none"/>
<text transform="translate(60.42,28.20) scale(1.0478,1)" font-size="42.40" style="" fill="#000" >4.0</text>
<text transform="translate(60.85,105.33) scale(1.0402,1)" font-size="42.40" style="" fill="#000" >3.0</text>
<text transform="translate(60.17,214.03) scale(1.0521,1)" font-size="42.40" style="" fill="#000" >2.0</text>
<text transform="translate(60.50,399.87) scale(1.0464,1)" font-size="42.40" style="" fill="#000" >1.0</text>
<text transform="translate(60.41,1017.20) scale(1.0375,1)" font-size="42.40" style="" fill="#000" >0.1</text>
<text transform="translate(98.23,1074.10) scale(1.0293,1)" font-size="42.40" style="" fill="#000" >6</text>
<text transform="translate(98.64,1129.12) scale(0.9946,1)" font-size="42.40" style="" fill="#000" >4</text>
<text transform="translate(98.54,1184.13) scale(0.9586,1)" font-size="42.40" style="" fill="#000" >2</text>
<text transform="translate(98.64,1239.15) scale(0.9945,1)" font-size="42.40" style="" fill="#000" >0</text>
<text transform="translate(65.97,1294.17) scale(1.1497,1)" font-size="42.40" style="" fill="#000" >−2</text>
<text transform="translate(65.94,1349.18) scale(1.1660,1)" font-size="42.40" style="" fill="#000" >−4</text>
<text transform="translate(65.91,1404.20) scale(1.1762,1)" font-size="42.40" style="" fill="#000" >−6</text>
<text transform="translate(128.90,1437.30) scale(0.9498,1)" font-size="42.40" style="" fill="#000" >1</text>
<text transform="translate(219.83,1437.30) scale(0.9586,1)" font-size="42.40" style="" fill="#000" >2</text>
<text transform="translate(311.81,1437.30) scale(0.9551,1)" font-size="42.40" style="" fill="#000" >3</text>
<text transform="translate(402.66,1437.30) scale(0.9946,1)" font-size="42.40" style="" fill="#000" >4</text>
<text transform="translate(494.53,1437.30) scale(0.9385,1)" font-size="42.40" style="" fill="#000" >5</text>
<text transform="translate(584.99,1437.30) scale(1.0293,1)" font-size="42.40" style="" fill="#000" >6</text>
<text transform="translate(676.94,1437.30) scale(0.9728,1)" font-size="42.40" style="" fill="#000" >7</text>
<text transform="translate(768.00,1437.30) scale(1.0052,1)" font-size="42.40" style="" fill="#000" >8</text>
<text transform="translate(858.99,1437.30) scale(1.0272,1)" font-size="42.40" style="" fill="#000" >9</text>
<text transform="translate(938.20,1437.30) scale(1.0372,1)" font-size="42.40" style="" fill="#000" >10</text>
<text transform="translate(402.39,1487.90) scale(1.0461,1)" font-size="48.76" style="" fill="#000" >Energy (keV)</text>
<g transform="translate(48.0,0) rotate(-90)">
<text transform="translate(-1397.61,0.00) scale(1.0602,1)" font-size="48.76" style="" fill="#000" >(Data-Model)/</text>
<text transform="translate(-1081.59,0.00) scale(0.9827,1)" font-size="48.76" style="font-style:italic;" fill="#000" >σ</text>
</g>
<g transform="translate(42.7,0) rotate(-90)">
<text transform="translate(-727.92,0.00) scale(0.8801,1)" font-size="48.76" style="font-style:italic;" fill="#000" >E</text>
<text transform="translate(-698.31,0.00) scale(0.8047,1)" font-size="48.76" style="font-style:italic;" fill="#000" >F</text>
<text transform="translate(-671.59,7.80) scale(0.8487,1)" font-size="34.13" style="font-style:italic;" fill="#000" >E</text>
<text transform="translate(-634.74,0.00) scale(1.0369,1)" font-size="48.76" style="" fill="#000" >(keV</text>
<text transform="translate(-515.21,0.00) scale(1.0685,1)" font-size="48.76" style="" fill="#000" >cm</text>
<text transform="translate(-443.28,-18.00) scale(1.2362,1)" font-size="34.13" style="" fill="#000" >−</text>
<text transform="translate(-417.62,-18.00) scale(1.0033,1)" font-size="34.13" style="" fill="#000" >2</text>
<text transform="translate(-380.46,0.00) scale(0.9313,1)" font-size="48.76" style="" fill="#000" >s</text>
<text transform="translate(-355.48,-18.00) scale(1.2362,1)" font-size="34.13" style="" fill="#000" >−</text>
<text transform="translate(-328.84,-18.00) scale(0.9785,1)" font-size="34.13" style="" fill="#000" >1</text>
<text transform="translate(-304.23,0.00) scale(0.7890,1)" font-size="48.76" style="" fill="#000" >)</text>
</g>
<rect x="617.7" y="717.6" width="323.6" height="263.6" rx="7" ry="7" fill="#fff" fill-opacity="0.8" stroke="#cccccc" stroke-width="1.6"/>
<path d="M633.0 752.4H721.7" stroke="#000080" stroke-width="3.1"/>
<text transform="translate(753.05,768.30) scale(1.0332,1)" font-size="46.64" style="" fill="#000" >Dip1</text>
<path d="M633.0 815.0H721.7" stroke="#8b0000" stroke-width="3.1"/>
<text transform="translate(753.54,830.60) scale(1.0216,1)" font-size="46.64" style="" fill="#000" >Off-dip1</text>
<path d="M633.0 877.7H721.7" stroke="#0000ff" stroke-width="3.1"/>
<text transform="translate(753.05,893.00) scale(1.0329,1)" font-size="46.64" style="" fill="#000" >Dip2</text>
<path d="M633.0 940.4H721.7" stroke="#ff0000" stroke-width="3.1"/>
<text transform="translate(753.55,955.40) scale(1.0208,1)" font-size="46.64" style="" fill="#000" >Off-dip2</text>
</svg></body></html>
